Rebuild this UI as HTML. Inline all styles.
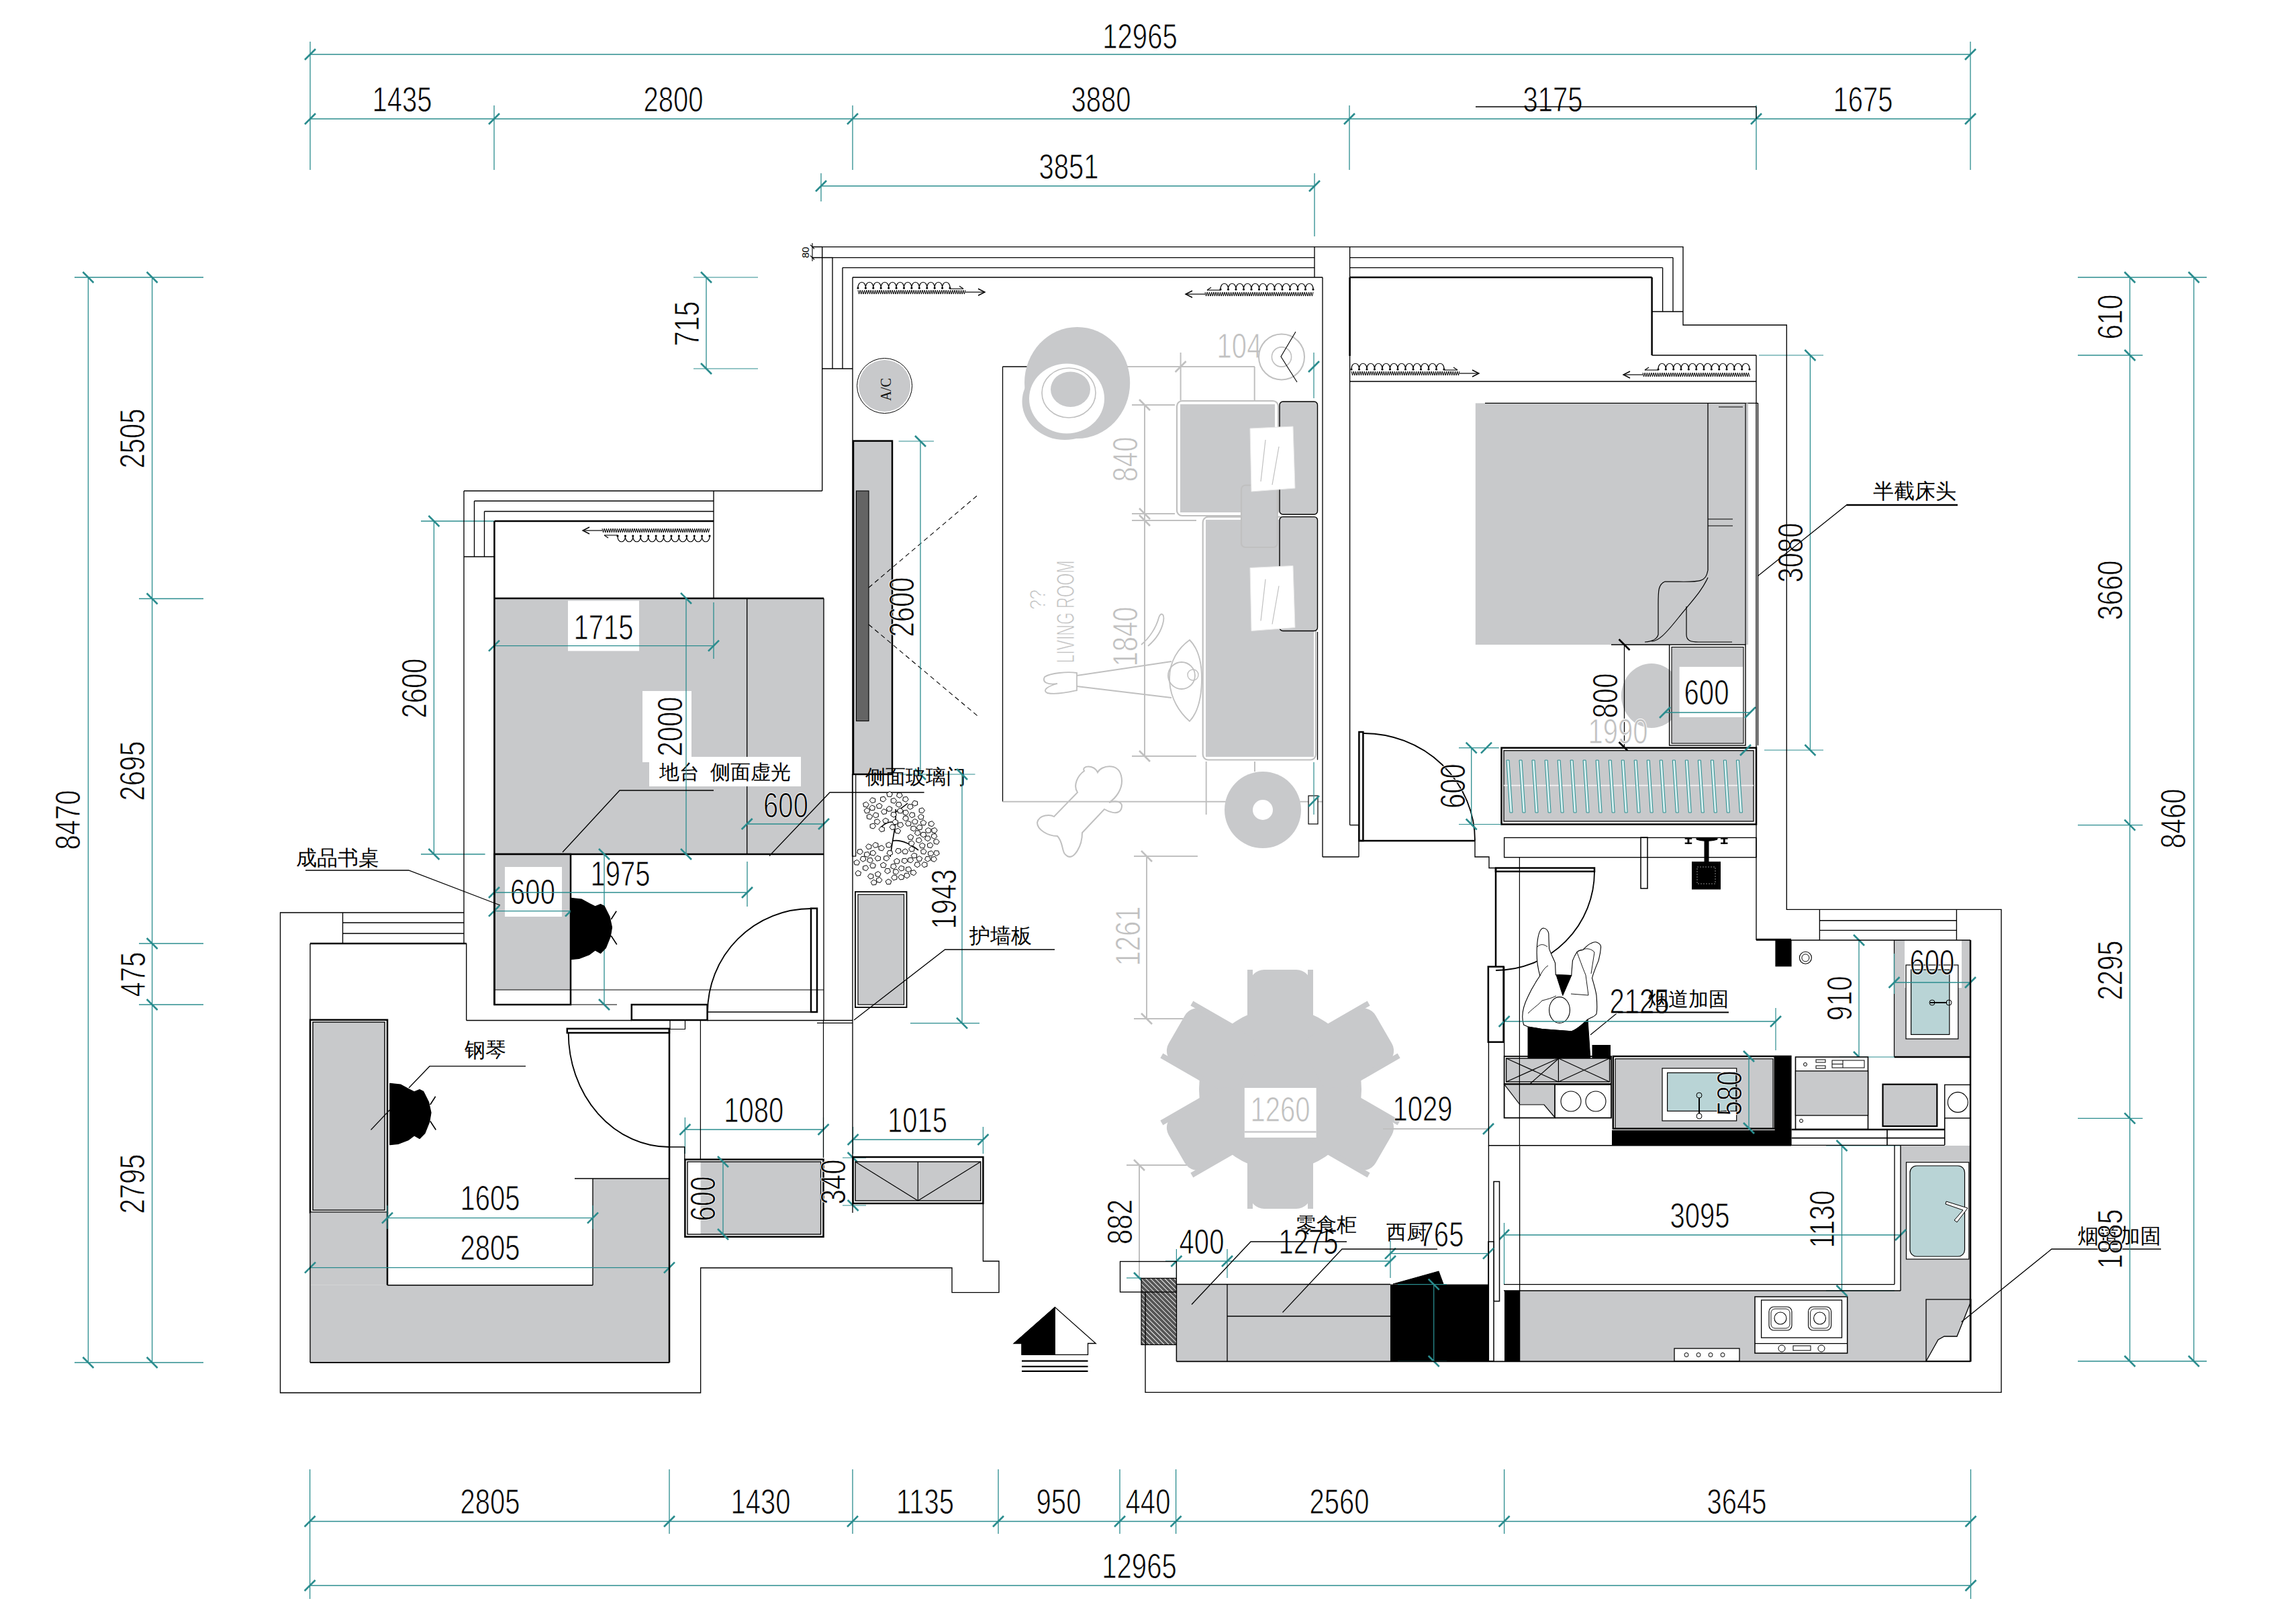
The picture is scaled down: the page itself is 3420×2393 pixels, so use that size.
<!DOCTYPE html>
<html><head><meta charset="utf-8"><style>html,body{margin:0;padding:0;background:#fff;overflow:hidden}svg{display:block}</style></head>
<body><svg width="3420" height="2393" viewBox="0 0 3420 2393" font-family="Liberation Sans, sans-serif">
<rect width="3420" height="2393" fill="#fff"/>
<rect x="736.4" y="891" width="490.6" height="381" fill="#c8c9cb"  />
<line x1="736.4" y1="891" x2="1227" y2="891" stroke="#000" stroke-width="2.5" />
<line x1="1112.7" y1="891" x2="1112.7" y2="1272" stroke="#000" stroke-width="1.35" />
<line x1="736.4" y1="1272" x2="1227" y2="1272" stroke="#000" stroke-width="2.5" />
<rect x="846" y="894.6" width="106" height="74.8" fill="#fff"  />
<text transform="translate(899,934) scale(0.785,1)" x="0" y="17.8" font-family="Liberation Sans" font-size="51" fill="#000" stroke="#fff" stroke-width="0.9" text-anchor="middle">1715</text>
<line x1="736" y1="961.6" x2="1063" y2="961.6" stroke="#2a8c8e" stroke-width="1.3" />
<line x1="728" y1="969.6" x2="744" y2="953.6" stroke="#2a8c8e" stroke-width="2.6" />
<line x1="1055" y1="969.6" x2="1071" y2="953.6" stroke="#2a8c8e" stroke-width="2.6" />
<line x1="1063" y1="897" x2="1063" y2="981" stroke="#2a8c8e" stroke-width="1.3" />
<rect x="957" y="1029" width="73" height="106" fill="#fff"  />
<text transform="translate(998,1082) rotate(-90) scale(0.785,1)" x="0" y="17.8" font-family="Liberation Sans" font-size="51" fill="#000" stroke="#fff" stroke-width="0.9" text-anchor="middle">2000</text>
<rect x="967" y="1127" width="226" height="44" fill="#fff"  />
<text x="1080" y="1159.8" font-family="Liberation Sans" font-size="30" fill="#000" text-anchor="middle">地台&#160;&#160;侧面虚光</text>
<line x1="1022" y1="891" x2="1022" y2="1272" stroke="#2a8c8e" stroke-width="1.3" />
<line x1="1014" y1="883" x2="1030" y2="899" stroke="#2a8c8e" stroke-width="2.6" />
<line x1="1014" y1="1264" x2="1030" y2="1280" stroke="#2a8c8e" stroke-width="2.6" />
<polyline points="838,1269 923,1177 1063,1177" stroke="#000" stroke-width="1.3" fill="none" />
<text transform="translate(1170.5,1199) scale(0.785,1)" x="0" y="17.8" font-family="Liberation Sans" font-size="51" fill="#000" stroke="#fff" stroke-width="0.9" text-anchor="middle">600</text>
<line x1="1112.7" y1="1227" x2="1227" y2="1227" stroke="#2a8c8e" stroke-width="1.3" />
<line x1="1104.7" y1="1235" x2="1120.7" y2="1219" stroke="#2a8c8e" stroke-width="2.6" />
<line x1="1219" y1="1235" x2="1235" y2="1219" stroke="#2a8c8e" stroke-width="2.6" />
<polyline points="1146,1274.5 1236,1180 1376.6,1180" stroke="#000" stroke-width="1.3" fill="none" />
<line x1="646.4" y1="776" x2="646.4" y2="1272" stroke="#2a8c8e" stroke-width="1.3" />
<line x1="638.4" y1="768" x2="654.4" y2="784" stroke="#2a8c8e" stroke-width="2.6" />
<line x1="638.4" y1="1264" x2="654.4" y2="1280" stroke="#2a8c8e" stroke-width="2.6" />
<line x1="627" y1="776" x2="736" y2="776" stroke="#2a8c8e" stroke-width="1.3" />
<line x1="627" y1="1272" x2="722.6" y2="1272" stroke="#2a8c8e" stroke-width="1.3" />
<text transform="translate(617,1025) rotate(-90) scale(0.785,1)" x="0" y="17.8" font-family="Liberation Sans" font-size="51" fill="#000" stroke="#fff" stroke-width="0.9" text-anchor="middle">2600</text>
<rect x="736.4" y="1272" width="113.6" height="202" fill="#c8c9cb"  />
<rect x="736.4" y="1272" width="113.6" height="224" fill="none" stroke="#000" stroke-width="2.5" />
<line x1="736" y1="1474" x2="1227" y2="1474" stroke="#000" stroke-width="1.2" />
<line x1="850" y1="1496" x2="919" y2="1496" stroke="#000" stroke-width="1.2" />
<rect x="752" y="1291" width="85" height="74" fill="#fff"  />
<text transform="translate(793.5,1328) scale(0.785,1)" x="0" y="17.8" font-family="Liberation Sans" font-size="51" fill="#000" stroke="#fff" stroke-width="0.9" text-anchor="middle">600</text>
<line x1="736" y1="1329" x2="1113" y2="1329" stroke="#2a8c8e" stroke-width="1.3" />
<line x1="728" y1="1337" x2="744" y2="1321" stroke="#2a8c8e" stroke-width="2.6" />
<line x1="1105" y1="1337" x2="1121" y2="1321" stroke="#2a8c8e" stroke-width="2.6" />
<line x1="1113" y1="1283" x2="1113" y2="1350" stroke="#2a8c8e" stroke-width="1.3" />
<line x1="736" y1="1356.6" x2="850" y2="1356.6" stroke="#2a8c8e" stroke-width="1.3" />
<line x1="728" y1="1364.6" x2="744" y2="1348.6" stroke="#2a8c8e" stroke-width="2.6" />
<line x1="842" y1="1364.6" x2="858" y2="1348.6" stroke="#2a8c8e" stroke-width="2.6" />
<text transform="translate(924,1301) scale(0.785,1)" x="0" y="17.8" font-family="Liberation Sans" font-size="51" fill="#000" stroke="#fff" stroke-width="0.9" text-anchor="middle">1975</text>
<line x1="900" y1="1272" x2="900" y2="1496" stroke="#2a8c8e" stroke-width="1.3" />
<line x1="892" y1="1264" x2="908" y2="1280" stroke="#2a8c8e" stroke-width="2.6" />
<line x1="892" y1="1488" x2="908" y2="1504" stroke="#2a8c8e" stroke-width="2.6" />
<rect x="1208" y="1352.7" width="9" height="154.3" fill="none" stroke="#000" stroke-width="2.5" />
<path d="M1208,1353 A154,154 0 0 0 1054,1507" stroke="#000" stroke-width="1.8" fill="none" />
<rect x="940.8" y="1496" width="112.8" height="23" fill="none" stroke="#000" stroke-width="2.5" />
<line x1="1054" y1="1507" x2="1215.6" y2="1507" stroke="#000" stroke-width="1.3" />
<text x="503" y="1288.2" font-family="Liberation Sans" font-size="31" fill="#000" text-anchor="middle">成品书桌</text>
<polyline points="455,1296 608.7,1296 745,1348" stroke="#000" stroke-width="1.3" fill="none" />
<path d="M920,797 C919,810 932.4,810 931.4,797 C930.4,810 943.8,810 942.8,797 C941.8,810 955.2,810 954.2,797 C953.2,810 966.7,810 965.7,797 C964.7,810 978.1,810 977.1,797 C976.1,810 989.5,810 988.5,797 C987.5,810 1000.9,810 999.9,797 C998.9,810 1012.3,810 1011.3,797 C1010.3,810 1023.8,810 1022.8,797 C1021.8,810 1035.2,810 1034.2,797 C1033.2,810 1046.6,810 1045.6,797 C1044.6,810 1058,810 1057,797" stroke="#000" stroke-width="1.2" fill="none" />
<circle cx="920" cy="798" r="1.6" fill="#000" />
<circle cx="931.4" cy="798" r="1.6" fill="#000" />
<circle cx="942.8" cy="798" r="1.6" fill="#000" />
<circle cx="954.2" cy="798" r="1.6" fill="#000" />
<circle cx="965.7" cy="798" r="1.6" fill="#000" />
<circle cx="977.1" cy="798" r="1.6" fill="#000" />
<circle cx="988.5" cy="798" r="1.6" fill="#000" />
<circle cx="999.9" cy="798" r="1.6" fill="#000" />
<circle cx="1011.3" cy="798" r="1.6" fill="#000" />
<circle cx="1022.8" cy="798" r="1.6" fill="#000" />
<circle cx="1034.2" cy="798" r="1.6" fill="#000" />
<circle cx="1045.6" cy="798" r="1.6" fill="#000" />
<circle cx="1057" cy="798" r="1.6" fill="#000" />
<line x1="920" y1="797" x2="900" y2="797" stroke="#000" stroke-width="1.1" />
<polyline points="906,801 900,797" stroke="#000" stroke-width="1.2" fill="none" />
<line x1="897" y1="790" x2="868" y2="790" stroke="#000" stroke-width="1.2" />
<polyline points="897,787 898.6,793 900.2,787 901.8,793 903.4,787 905,793 906.6,787 908.2,793 909.8,787 911.4,793 913,787 914.6,793 916.2,787 917.8,793 919.4,787 921,793 922.6,787 924.2,793 925.8,787 927.4,793 929,787 930.6,793 932.2,787 933.8,793 935.4,787 937,793 938.6,787 940.2,793 941.8,787 943.4,793 945,787 946.6,793 948.2,787 949.8,793 951.4,787 953,793 954.6,787 956.2,793 957.8,787 959.4,793 961,787 962.6,793 964.2,787 965.8,793 967.4,787 969,793 970.6,787 972.2,793 973.8,787 975.4,793 977,787 978.6,793 980.2,787 981.8,793 983.4,787 985,793 986.6,787 988.2,793 989.8,787 991.4,793 993,787 994.6,793 996.2,787 997.8,793 999.4,787 1001,793 1002.6,787 1004.2,793 1005.8,787 1007.4,793 1009,787 1010.6,793 1012.2,787 1013.8,793 1015.4,787 1017,793 1018.6,787 1020.2,793 1021.8,787 1023.4,793 1025,787 1026.6,793 1028.2,787 1029.8,793 1031.4,787 1033,793 1034.6,787 1036.2,793 1037.8,787 1039.4,793 1041,787 1042.6,793 1044.2,787 1045.8,793 1047.4,787 1049,793 1050.6,787 1052.2,793 1053.8,787 1055.4,793 1057,787" stroke="#000" stroke-width="1.0" fill="none" />
<polyline points="878,785 868,790 878,795" stroke="#000" stroke-width="1.4" fill="none" />
<rect x="462" y="1518.7" width="115" height="286.8" fill="none" stroke="#000" stroke-width="2.5" />
<rect x="466" y="1522" width="107" height="280" fill="#c8c9cb" stroke="#000" stroke-width="1.4" />
<rect x="462" y="1805.5" width="115" height="108.2" fill="#c8c9cb"  />
<rect x="462" y="1913.7" width="535" height="115.3" fill="#c8c9cb"  />
<rect x="883" y="1755" width="114" height="274" fill="#c8c9cb"  />
<line x1="577" y1="1805.5" x2="577" y2="1913.7" stroke="#000" stroke-width="2.5" />
<line x1="577" y1="1913.7" x2="883" y2="1913.7" stroke="#000" stroke-width="1.35" />
<line x1="856" y1="1755" x2="997" y2="1755" stroke="#000" stroke-width="1.35" />
<line x1="883" y1="1755" x2="883" y2="1913.7" stroke="#000" stroke-width="1.35" />
<line x1="462" y1="2029" x2="997" y2="2029" stroke="#000" stroke-width="1.35" />
<path d="M580.8,1613.4 L596.6,1615.1 L609,1621.9 L617,1625.9 L625,1622.5 L630.6,1625.3 L638.5,1641 L642,1657 L639.7,1670.6 L632.9,1687.6 L625,1695.5 L617,1691 L608,1697.8 L593,1703.4 L580.8,1704.6 Z" stroke="#000" stroke-width="1.2" fill="#000" stroke-linejoin="round"/>
<line x1="640.8" y1="1645" x2="648.7" y2="1632.7" stroke="#000" stroke-width="1.6" />
<line x1="640.8" y1="1669.5" x2="649.3" y2="1682.5" stroke="#000" stroke-width="1.6" />
<path d="M850.3,1337.4 L866.1,1339.1 L878.5,1345.9 L886.5,1349.9 L894.5,1346.5 L900.1,1349.3 L908,1365 L911.5,1381 L909.2,1394.6 L902.4,1411.6 L894.5,1419.5 L886.5,1415 L877.5,1421.8 L862.5,1427.4 L850.3,1428.6 Z" stroke="#000" stroke-width="1.2" fill="#000" stroke-linejoin="round"/>
<line x1="910.3" y1="1369" x2="918.2" y2="1356.7" stroke="#000" stroke-width="1.6" />
<line x1="910.3" y1="1393.5" x2="918.8" y2="1406.5" stroke="#000" stroke-width="1.6" />
<line x1="552.5" y1="1682.5" x2="580.8" y2="1652.5" stroke="#000" stroke-width="1.1" />
<text x="723" y="1574.2" font-family="Liberation Sans" font-size="31" fill="#000" text-anchor="middle">钢琴</text>
<polyline points="609,1620 640,1587.7 783,1587.7" stroke="#000" stroke-width="1.3" fill="none" />
<text transform="translate(730,1784.5) scale(0.785,1)" x="0" y="17.8" font-family="Liberation Sans" font-size="51" fill="#000" stroke="#fff" stroke-width="0.9" text-anchor="middle">1605</text>
<line x1="577" y1="1813.7" x2="883" y2="1813.7" stroke="#2a8c8e" stroke-width="1.3" />
<line x1="569" y1="1821.7" x2="585" y2="1805.7" stroke="#2a8c8e" stroke-width="2.6" />
<line x1="875" y1="1821.7" x2="891" y2="1805.7" stroke="#2a8c8e" stroke-width="2.6" />
<line x1="577" y1="1795" x2="577" y2="1830" stroke="#2a8c8e" stroke-width="1.2" />
<line x1="883" y1="1795" x2="883" y2="1830" stroke="#2a8c8e" stroke-width="1.2" />
<text transform="translate(730,1858.5) scale(0.785,1)" x="0" y="17.8" font-family="Liberation Sans" font-size="51" fill="#000" stroke="#fff" stroke-width="0.9" text-anchor="middle">2805</text>
<line x1="462" y1="1887.6" x2="997" y2="1887.6" stroke="#2a8c8e" stroke-width="1.3" />
<line x1="454" y1="1895.6" x2="470" y2="1879.6" stroke="#2a8c8e" stroke-width="2.6" />
<line x1="989" y1="1895.6" x2="1005" y2="1879.6" stroke="#2a8c8e" stroke-width="2.6" />
<rect x="844.8" y="1531.8" width="152.1" height="6.2" fill="none" stroke="#000" stroke-width="2.5" />
<path d="M846.7,1538 A150,170 0 0 0 997,1708" stroke="#000" stroke-width="1.8" fill="none" />
<rect x="1020.4" y="1726.6" width="206.1" height="115.1" fill="none" stroke="#000" stroke-width="2.5" />
<rect x="1043.6" y="1730" width="179" height="108" fill="#c8c9cb"  />
<rect x="1024" y="1730" width="198.6" height="108" fill="none" stroke="#000" stroke-width="1.4" />
<text transform="translate(1122.7,1653) scale(0.785,1)" x="0" y="17.8" font-family="Liberation Sans" font-size="51" fill="#000" stroke="#fff" stroke-width="0.9" text-anchor="middle">1080</text>
<line x1="1020.4" y1="1682" x2="1226.5" y2="1682" stroke="#2a8c8e" stroke-width="1.3" />
<line x1="1012.4" y1="1690" x2="1028.4" y2="1674" stroke="#2a8c8e" stroke-width="2.6" />
<line x1="1218.5" y1="1690" x2="1234.5" y2="1674" stroke="#2a8c8e" stroke-width="2.6" />
<line x1="1020.4" y1="1664" x2="1020.4" y2="1718" stroke="#2a8c8e" stroke-width="1.2" />
<line x1="1226.5" y1="1664" x2="1226.5" y2="1724" stroke="#2a8c8e" stroke-width="1.2" />
<text transform="translate(1047,1785) rotate(-90) scale(0.785,1)" x="0" y="17.8" font-family="Liberation Sans" font-size="51" fill="#000" stroke="#fff" stroke-width="0.9" text-anchor="middle">600</text>
<line x1="1077" y1="1730" x2="1077" y2="1838" stroke="#2a8c8e" stroke-width="1.3" />
<line x1="1069" y1="1722" x2="1085" y2="1738" stroke="#2a8c8e" stroke-width="2.6" />
<line x1="1069" y1="1830" x2="1085" y2="1846" stroke="#2a8c8e" stroke-width="2.6" />
<text transform="translate(1241.5,1760) rotate(-90) scale(0.785,1)" x="0" y="17.8" font-family="Liberation Sans" font-size="51" fill="#000" stroke="#fff" stroke-width="0.9" text-anchor="middle">340</text>
<line x1="1270.6" y1="1724" x2="1270.6" y2="1795" stroke="#2a8c8e" stroke-width="1.3" />
<line x1="1262.6" y1="1716" x2="1278.6" y2="1732" stroke="#2a8c8e" stroke-width="2.6" />
<line x1="1262.6" y1="1787" x2="1278.6" y2="1803" stroke="#2a8c8e" stroke-width="2.6" />
<line x1="1255" y1="1724" x2="1290" y2="1724" stroke="#2a8c8e" stroke-width="1.2" />
<line x1="1255" y1="1795" x2="1290" y2="1795" stroke="#2a8c8e" stroke-width="1.2" />
<rect x="1270.6" y="1723" width="193.8" height="69" fill="none" stroke="#000" stroke-width="2.5" />
<rect x="1274" y="1730" width="186.7" height="58" fill="#c8c9cb" stroke="#000" stroke-width="1.4" />
<line x1="1367.3" y1="1730" x2="1367.3" y2="1788" stroke="#000" stroke-width="1.2" />
<line x1="1274" y1="1730" x2="1367.3" y2="1788" stroke="#000" stroke-width="1.2" />
<line x1="1460.7" y1="1730" x2="1367.3" y2="1788" stroke="#000" stroke-width="1.2" />
<text transform="translate(1366.6,1668) scale(0.785,1)" x="0" y="17.8" font-family="Liberation Sans" font-size="51" fill="#000" stroke="#fff" stroke-width="0.9" text-anchor="middle">1015</text>
<line x1="1270.6" y1="1697" x2="1464.4" y2="1697" stroke="#2a8c8e" stroke-width="1.3" />
<line x1="1262.6" y1="1705" x2="1278.6" y2="1689" stroke="#2a8c8e" stroke-width="2.6" />
<line x1="1456.4" y1="1705" x2="1472.4" y2="1689" stroke="#2a8c8e" stroke-width="2.6" />
<line x1="1464.4" y1="1678" x2="1464.4" y2="1718" stroke="#2a8c8e" stroke-width="1.2" />
<line x1="1270.6" y1="1678" x2="1270.6" y2="1718" stroke="#2a8c8e" stroke-width="1.2" />
<polygon points="1510.2,2000.5 1571.4,1946.5 1632.2,2000.5 1620.5,2000.5 1620.5,2017.4 1522,2017.4 1522,2000.5" stroke="#000" stroke-width="1.3" fill="#fff" />
<polygon points="1510.2,2000.5 1571.4,1946.5 1571.4,2017.4 1522,2017.4 1522,2000.5" stroke="#000" stroke-width="1" fill="#000" />
<line x1="1522" y1="2026.6" x2="1620.5" y2="2026.6" stroke="#000" stroke-width="2.2" />
<line x1="1522" y1="2034.8" x2="1620.5" y2="2034.8" stroke="#000" stroke-width="2.2" />
<line x1="1522" y1="2041.8" x2="1620.5" y2="2041.8" stroke="#000" stroke-width="2.2" />
<rect x="1271" y="656.6" width="58" height="496.4" fill="#c8c9cb" stroke="#000" stroke-width="2.5" />
<rect x="1275.5" y="731" width="18.5" height="342.6" fill="#646464" stroke="#000" stroke-width="1.1" />
<line x1="1294" y1="875" x2="1456" y2="737.6" stroke="#000" stroke-width="1.1" stroke-dasharray="7,5"/>
<line x1="1294" y1="930" x2="1456" y2="1066" stroke="#000" stroke-width="1.1" stroke-dasharray="7,5"/>
<line x1="1371" y1="657" x2="1371" y2="1153" stroke="#2a8c8e" stroke-width="1.3" />
<line x1="1363" y1="649" x2="1379" y2="665" stroke="#2a8c8e" stroke-width="2.6" />
<line x1="1363" y1="1145" x2="1379" y2="1161" stroke="#2a8c8e" stroke-width="2.6" />
<line x1="1338.6" y1="657" x2="1391" y2="657" stroke="#2a8c8e" stroke-width="1.2" />
<line x1="1340" y1="1153" x2="1452.5" y2="1153" stroke="#2a8c8e" stroke-width="1.2" />
<text transform="translate(1343,904) rotate(-90) scale(0.785,1)" x="0" y="17.8" font-family="Liberation Sans" font-size="51" fill="#000" stroke="#fff" stroke-width="0.9" text-anchor="middle">2600</text>
<text x="1364" y="1166.8" font-family="Liberation Sans" font-size="30" fill="#000" text-anchor="middle">侧面玻璃门</text>
<rect x="1269.5" y="1153" width="5.2" height="122" fill="none" stroke="#000" stroke-width="1.2" />
<path d="M1326,1276 C1328,1262 1330,1250 1332,1238 C1334,1225 1335,1215 1334,1205 M1330,1252 C1342,1250 1355,1256 1368,1266 M1334,1225 C1325,1222 1318,1226 1312,1232 M1333,1210 C1340,1205 1348,1200 1352,1196" stroke="#000" stroke-width="1.6" fill="none" />
<polygon points="1296.9,1220.1 1291.6,1218.9 1291.2,1214 1296.2,1212.1 1299.7,1215.9" fill="#fff" stroke="#000" stroke-width="1"/>
<polygon points="1360.2,1202.8 1355.6,1205.4 1351.4,1202.3 1353.4,1197.7 1358.8,1198" fill="#fff" stroke="#000" stroke-width="1"/>
<polygon points="1345.6,1229.4 1341.5,1232.6 1336.9,1230 1338.2,1225.2 1343.6,1224.8" fill="#fff" stroke="#000" stroke-width="1"/>
<polygon points="1303.7,1194.3 1298.5,1195.8 1295.3,1191.8 1298.5,1187.8 1303.7,1189.4" fill="#fff" stroke="#000" stroke-width="1"/>
<polygon points="1353.3,1220.2 1348.7,1222.8 1344.6,1219.6 1346.6,1215 1352,1215.4" fill="#fff" stroke="#000" stroke-width="1"/>
<polygon points="1365.7,1226.9 1360.3,1227.1 1358.4,1222.5 1362.6,1219.4 1367.2,1222.1" fill="#fff" stroke="#000" stroke-width="1"/>
<polygon points="1327.9,1207.6 1322.6,1208.3 1320.2,1203.9 1324.1,1200.5 1328.9,1202.8" fill="#fff" stroke="#000" stroke-width="1"/>
<polygon points="1377.5,1206.9 1374.3,1210.9 1369.2,1209.4 1369.2,1204.5 1374.3,1202.9" fill="#fff" stroke="#000" stroke-width="1"/>
<polygon points="1335.5,1214 1331.3,1217.1 1326.8,1214.4 1328.2,1209.6 1333.6,1209.3" fill="#fff" stroke="#000" stroke-width="1"/>
<polygon points="1320.2,1211.7 1314.9,1212.5 1312.4,1208.2 1316.2,1204.6 1321,1206.9" fill="#fff" stroke="#000" stroke-width="1"/>
<polygon points="1362.8,1215.6 1357.9,1217.7 1354.2,1214.1 1356.8,1209.8 1362.1,1210.7" fill="#fff" stroke="#000" stroke-width="1"/>
<polygon points="1294.5,1210.5 1289.1,1210.9 1287,1206.4 1291.1,1203.1 1295.7,1205.7" fill="#fff" stroke="#000" stroke-width="1"/>
<polygon points="1308.4,1216.2 1303.4,1218 1300,1214.1 1303,1210 1308.2,1211.3" fill="#fff" stroke="#000" stroke-width="1"/>
<polygon points="1353.3,1190.7 1349.6,1194.3 1344.7,1192.1 1345.5,1187.2 1350.8,1186.4" fill="#fff" stroke="#000" stroke-width="1"/>
<polygon points="1322.2,1225.5 1316.8,1225.9 1314.7,1221.3 1318.9,1218.1 1323.5,1220.7" fill="#fff" stroke="#000" stroke-width="1"/>
<polygon points="1332.5,1196.3 1327.3,1195 1327.2,1190 1332.2,1188.3 1335.6,1192.2" fill="#fff" stroke="#000" stroke-width="1"/>
<polygon points="1353.6,1210.5 1350,1214.2 1345.1,1212.1 1345.7,1207.2 1351,1206.2" fill="#fff" stroke="#000" stroke-width="1"/>
<polygon points="1302.6,1206.1 1297.3,1206.9 1294.8,1202.6 1298.6,1199 1303.4,1201.2" fill="#fff" stroke="#000" stroke-width="1"/>
<polygon points="1356.4,1229.4 1351.1,1230.2 1348.5,1225.9 1352.3,1222.3 1357.2,1224.5" fill="#fff" stroke="#000" stroke-width="1"/>
<polygon points="1336.8,1227.1 1331.5,1227.9 1329,1223.6 1332.7,1220 1337.6,1222.2" fill="#fff" stroke="#000" stroke-width="1"/>
<polygon points="1317.3,1237.3 1312.1,1238.8 1309,1234.8 1312.2,1230.8 1317.3,1232.4" fill="#fff" stroke="#000" stroke-width="1"/>
<polygon points="1333.3,1234.2 1328.1,1235.7 1325,1231.7 1328.2,1227.7 1333.3,1229.3" fill="#fff" stroke="#000" stroke-width="1"/>
<polygon points="1308,1227.6 1302.9,1226.1 1302.8,1221.2 1307.9,1219.6 1311.2,1223.5" fill="#fff" stroke="#000" stroke-width="1"/>
<polygon points="1291.9,1202 1286.6,1201.2 1285.7,1196.3 1290.5,1194.1 1294.3,1197.6" fill="#fff" stroke="#000" stroke-width="1"/>
<polygon points="1366.8,1198.4 1361.8,1200.3 1358.3,1196.6 1361.1,1192.3 1366.4,1193.5" fill="#fff" stroke="#000" stroke-width="1"/>
<polygon points="1327.4,1186.5 1322,1186.1 1320.8,1181.3 1325.4,1178.7 1329.5,1181.9" fill="#fff" stroke="#000" stroke-width="1"/>
<polygon points="1374.9,1219.7 1369.5,1220.2 1367.3,1215.7 1371.3,1212.4 1376,1214.9" fill="#fff" stroke="#000" stroke-width="1"/>
<polygon points="1312.1,1203.8 1306.7,1203.5 1305.4,1198.7 1310,1196.1 1314.1,1199.2" fill="#fff" stroke="#000" stroke-width="1"/>
<polygon points="1301.3,1234.1 1296.2,1232.6 1296.1,1227.7 1301.3,1226.1 1304.5,1230.1" fill="#fff" stroke="#000" stroke-width="1"/>
<polygon points="1319.9,1190.4 1316.3,1194.1 1311.4,1192.2 1311.8,1187.3 1317.1,1186.2" fill="#fff" stroke="#000" stroke-width="1"/>
<polygon points="1344.3,1185.3 1340,1188.4 1335.5,1185.7 1336.9,1180.9 1342.3,1180.7" fill="#fff" stroke="#000" stroke-width="1"/>
<polygon points="1343.2,1199.2 1338.9,1202.2 1334.4,1199.4 1336,1194.7 1341.4,1194.6" fill="#fff" stroke="#000" stroke-width="1"/>
<polygon points="1343.2,1211 1337.8,1210.6 1336.6,1205.8 1341.2,1203.2 1345.3,1206.5" fill="#fff" stroke="#000" stroke-width="1"/>
<polygon points="1339,1241.3 1333.7,1240.2 1333.2,1235.3 1338.1,1233.3 1341.7,1237" fill="#fff" stroke="#000" stroke-width="1"/>
<polygon points="1386.3,1249.6 1382,1252.6 1377.5,1249.9 1379,1245.1 1384.4,1245" fill="#fff" stroke="#000" stroke-width="1"/>
<polygon points="1381,1290 1375.9,1291.6 1372.6,1287.7 1375.7,1283.6 1380.9,1285.1" fill="#fff" stroke="#000" stroke-width="1"/>
<polygon points="1377.6,1272 1372.3,1271.1 1371.6,1266.2 1376.4,1264.1 1380.2,1267.6" fill="#fff" stroke="#000" stroke-width="1"/>
<polygon points="1385.6,1240 1380.2,1240.2 1378.3,1235.5 1382.6,1232.5 1387.1,1235.2" fill="#fff" stroke="#000" stroke-width="1"/>
<polygon points="1365.2,1276.9 1359.9,1277.9 1357.2,1273.6 1360.8,1270 1365.8,1272" fill="#fff" stroke="#000" stroke-width="1"/>
<polygon points="1387.3,1262.6 1382,1261.7 1381.3,1256.8 1386.2,1254.7 1389.9,1258.2" fill="#fff" stroke="#000" stroke-width="1"/>
<polygon points="1359.6,1259.7 1354.3,1258.7 1353.8,1253.7 1358.7,1251.8 1362.3,1255.5" fill="#fff" stroke="#000" stroke-width="1"/>
<polygon points="1373.3,1251.7 1369.6,1255.3 1364.7,1253.3 1365.3,1248.4 1370.6,1247.4" fill="#fff" stroke="#000" stroke-width="1"/>
<polygon points="1388.8,1230.7 1383.6,1229.4 1383.4,1224.5 1388.5,1222.7 1391.8,1226.6" fill="#fff" stroke="#000" stroke-width="1"/>
<polygon points="1399.2,1271.8 1394.7,1274.5 1390.5,1271.4 1392.4,1266.8 1397.8,1267.1" fill="#fff" stroke="#000" stroke-width="1"/>
<polygon points="1361.5,1267.4 1356.1,1268.2 1353.6,1263.8 1357.4,1260.3 1362.2,1262.5" fill="#fff" stroke="#000" stroke-width="1"/>
<polygon points="1372,1282.2 1366.6,1282.2 1365,1277.5 1369.4,1274.6 1373.7,1277.5" fill="#fff" stroke="#000" stroke-width="1"/>
<polygon points="1386.2,1280.5 1381.7,1283.2 1377.5,1280.1 1379.4,1275.5 1384.8,1275.8" fill="#fff" stroke="#000" stroke-width="1"/>
<polygon points="1371.1,1241.9 1366.5,1244.6 1362.4,1241.4 1364.4,1236.8 1369.8,1237.2" fill="#fff" stroke="#000" stroke-width="1"/>
<polygon points="1396.7,1257.3 1391.4,1256.3 1390.7,1251.4 1395.6,1249.4 1399.3,1253" fill="#fff" stroke="#000" stroke-width="1"/>
<polygon points="1377.9,1228.8 1372.5,1228.5 1371.1,1223.8 1375.6,1221.1 1379.8,1224.2" fill="#fff" stroke="#000" stroke-width="1"/>
<polygon points="1393.2,1240.5 1388,1239.1 1387.9,1234.2 1393,1232.5 1396.3,1236.4" fill="#fff" stroke="#000" stroke-width="1"/>
<polygon points="1395.5,1279.8 1391.9,1283.4 1387,1281.4 1387.6,1276.5 1392.9,1275.5" fill="#fff" stroke="#000" stroke-width="1"/>
<polygon points="1373,1235.1 1367.6,1235.9 1365.2,1231.5 1369,1228 1373.8,1230.3" fill="#fff" stroke="#000" stroke-width="1"/>
<polygon points="1359.1,1250 1353.7,1250.1 1352,1245.4 1356.3,1242.5 1360.7,1245.3" fill="#fff" stroke="#000" stroke-width="1"/>
<polygon points="1388,1274.9 1382.8,1273.6 1382.5,1268.7 1387.6,1266.9 1391,1270.7" fill="#fff" stroke="#000" stroke-width="1"/>
<polygon points="1376.6,1262.7 1371.2,1262.8 1369.4,1258.2 1373.6,1255.1 1378.1,1257.9" fill="#fff" stroke="#000" stroke-width="1"/>
<polygon points="1370.7,1288.9 1366.2,1291.7 1361.9,1288.6 1363.8,1284 1369.2,1284.2" fill="#fff" stroke="#000" stroke-width="1"/>
<polygon points="1365.2,1234.2 1361.5,1237.8 1356.6,1235.7 1357.3,1230.8 1362.6,1229.9" fill="#fff" stroke="#000" stroke-width="1"/>
<polygon points="1395.9,1246 1391.8,1249.3 1387.1,1246.8 1388.3,1242 1393.7,1241.5" fill="#fff" stroke="#000" stroke-width="1"/>
<polygon points="1379.8,1244.2 1375.4,1247 1371,1244.1 1372.8,1239.4 1378.2,1239.4" fill="#fff" stroke="#000" stroke-width="1"/>
<polygon points="1311.1,1281 1305.9,1282.1 1303.1,1277.9 1306.6,1274.2 1311.6,1276.1" fill="#fff" stroke="#000" stroke-width="1"/>
<polygon points="1326.3,1298.5 1321.6,1301.1 1317.6,1297.8 1319.7,1293.3 1325.1,1293.7" fill="#fff" stroke="#000" stroke-width="1"/>
<polygon points="1351.9,1282.6 1348,1286 1343.2,1283.6 1344.2,1278.8 1349.6,1278.2" fill="#fff" stroke="#000" stroke-width="1"/>
<polygon points="1324.9,1278.4 1321.2,1282.1 1316.3,1280.1 1316.9,1275.2 1322.2,1274.2" fill="#fff" stroke="#000" stroke-width="1"/>
<polygon points="1326.5,1316.4 1321.1,1316.8 1319,1312.2 1323.1,1309 1327.7,1311.6" fill="#fff" stroke="#000" stroke-width="1"/>
<polygon points="1278.5,1288.1 1273.1,1287.7 1271.9,1282.9 1276.5,1280.4 1280.6,1283.6" fill="#fff" stroke="#000" stroke-width="1"/>
<polygon points="1295.9,1273 1292.1,1276.5 1287.2,1274.3 1288.1,1269.4 1293.4,1268.6" fill="#fff" stroke="#000" stroke-width="1"/>
<polygon points="1335.9,1309.3 1330.7,1310.7 1327.6,1306.7 1330.9,1302.7 1336,1304.4" fill="#fff" stroke="#000" stroke-width="1"/>
<polygon points="1301.8,1274.2 1296.6,1272.8 1296.4,1267.9 1301.5,1266.2 1304.8,1270.1" fill="#fff" stroke="#000" stroke-width="1"/>
<polygon points="1342.3,1268.9 1337.5,1271.2 1333.6,1267.8 1336,1263.4 1341.3,1264.1" fill="#fff" stroke="#000" stroke-width="1"/>
<polygon points="1307.8,1261.1 1302.6,1262.4 1299.6,1258.3 1303,1254.4 1308,1256.1" fill="#fff" stroke="#000" stroke-width="1"/>
<polygon points="1310.1,1305.3 1304.8,1305 1303.5,1300.2 1308.1,1297.6 1312.2,1300.8" fill="#fff" stroke="#000" stroke-width="1"/>
<polygon points="1293.8,1292.7 1290.5,1296.6 1285.4,1294.9 1285.6,1290 1290.8,1288.6" fill="#fff" stroke="#000" stroke-width="1"/>
<polygon points="1325.9,1262 1320.5,1261.3 1319.7,1256.4 1324.5,1254.1 1328.3,1257.6" fill="#fff" stroke="#000" stroke-width="1"/>
<polygon points="1318.3,1291.9 1312.9,1291.7 1311.4,1287 1315.9,1284.2 1320.2,1287.2" fill="#fff" stroke="#000" stroke-width="1"/>
<polygon points="1338.7,1285.9 1333.3,1286 1331.5,1281.3 1335.9,1278.3 1340.3,1281.2" fill="#fff" stroke="#000" stroke-width="1"/>
<polygon points="1329.7,1271.9 1324.9,1274.3 1321,1271 1323.2,1266.5 1328.6,1267.1" fill="#fff" stroke="#000" stroke-width="1"/>
<polygon points="1346.6,1295.5 1341.5,1297.1 1338.2,1293.1 1341.4,1289.1 1346.5,1290.6" fill="#fff" stroke="#000" stroke-width="1"/>
<polygon points="1311.2,1314.4 1305.9,1313.3 1305.5,1308.3 1310.5,1306.5 1314,1310.2" fill="#fff" stroke="#000" stroke-width="1"/>
<polygon points="1339,1298.5 1335.5,1302.2 1330.5,1300.4 1330.9,1295.4 1336.1,1294.3" fill="#fff" stroke="#000" stroke-width="1"/>
<polygon points="1357.7,1294.9 1354.1,1298.6 1349.1,1296.6 1349.7,1291.7 1355,1290.7" fill="#fff" stroke="#000" stroke-width="1"/>
<polygon points="1281.5,1303.5 1276.2,1304.2 1273.8,1299.8 1277.7,1296.3 1282.5,1298.7" fill="#fff" stroke="#000" stroke-width="1"/>
<polygon points="1314.5,1266.9 1309.2,1265.6 1308.9,1260.7 1313.9,1258.9 1317.4,1262.7" fill="#fff" stroke="#000" stroke-width="1"/>
<polygon points="1285.5,1269.1 1281.5,1272.5 1276.8,1270.1 1277.8,1265.2 1283.1,1264.6" fill="#fff" stroke="#000" stroke-width="1"/>
<polygon points="1300.5,1282 1296.3,1285.2 1291.7,1282.6 1293,1277.8 1298.4,1277.5" fill="#fff" stroke="#000" stroke-width="1"/>
<polygon points="1301,1307.2 1295.9,1309 1292.5,1305.2 1295.5,1301 1300.7,1302.3" fill="#fff" stroke="#000" stroke-width="1"/>
<polygon points="1350.8,1271.6 1345.4,1271.4 1344,1266.6 1348.5,1263.9 1352.7,1267" fill="#fff" stroke="#000" stroke-width="1"/>
<polygon points="1346,1309 1340.7,1310.1 1337.9,1305.9 1341.4,1302.2 1346.4,1304.1" fill="#fff" stroke="#000" stroke-width="1"/>
<polygon points="1304.8,1317.3 1299.4,1317.9 1297.2,1313.4 1301.2,1310 1305.9,1312.5" fill="#fff" stroke="#000" stroke-width="1"/>
<polygon points="1365.1,1299.8 1361.6,1303.6 1356.6,1301.7 1356.9,1296.8 1362.2,1295.6" fill="#fff" stroke="#000" stroke-width="1"/>
<polygon points="1355.3,1304.7 1351.1,1307.8 1346.6,1305.2 1347.9,1300.4 1353.3,1300.1" fill="#fff" stroke="#000" stroke-width="1"/>
<polygon points="1297.5,1263.6 1292.2,1264.6 1289.5,1260.3 1293.2,1256.7 1298.1,1258.7" fill="#fff" stroke="#000" stroke-width="1"/>
<polygon points="1302.9,1292.5 1297.5,1292.6 1295.7,1288 1299.9,1284.9 1304.4,1287.7" fill="#fff" stroke="#000" stroke-width="1"/>
<polygon points="1335.4,1290.6 1331.7,1294.2 1326.8,1292.2 1327.4,1287.3 1332.7,1286.3" fill="#fff" stroke="#000" stroke-width="1"/>
<polygon points="1360.6,1281.3 1357,1284.9 1352,1282.9 1352.7,1278 1358,1277" fill="#fff" stroke="#000" stroke-width="1"/>
<polygon points="1289.9,1280.6 1285.3,1283.2 1281.2,1280 1283.2,1275.4 1288.6,1275.8" fill="#fff" stroke="#000" stroke-width="1"/>
<line x1="1433" y1="1153" x2="1433" y2="1523.6" stroke="#2a8c8e" stroke-width="1.3" />
<line x1="1425" y1="1145" x2="1441" y2="1161" stroke="#2a8c8e" stroke-width="2.6" />
<line x1="1425" y1="1515.6" x2="1441" y2="1531.6" stroke="#2a8c8e" stroke-width="2.6" />
<line x1="1356" y1="1523.6" x2="1459" y2="1523.6" stroke="#2a8c8e" stroke-width="1.2" />
<text transform="translate(1406,1339) rotate(-90) scale(0.785,1)" x="0" y="17.8" font-family="Liberation Sans" font-size="51" fill="#000" stroke="#fff" stroke-width="0.9" text-anchor="middle">1943</text>
<rect x="1273.9" y="1328" width="76.6" height="172" fill="none" stroke="#000" stroke-width="1.8" />
<rect x="1278" y="1332" width="68.5" height="164" fill="#c8c9cb" stroke="#000" stroke-width="1.2" />
<text x="1490" y="1404.2" font-family="Liberation Sans" font-size="31" fill="#000" text-anchor="middle">护墙板</text>
<polyline points="1272,1519 1407.6,1414 1571,1414" stroke="#000" stroke-width="1.3" fill="none" />
<circle cx="1317.6" cy="574.5" r="41" fill="#fff" stroke="#000" stroke-width="1.0"/>
<circle cx="1317.6" cy="574.5" r="38.5" fill="#c8c9cb" />
<text transform="translate(1319,580) rotate(-90) scale(0.85,1)" x="0" y="8" font-family="Liberation Serif" font-size="24" fill="#111" text-anchor="middle">A/C</text>
<line x1="1052" y1="413" x2="1052" y2="549" stroke="#2a8c8e" stroke-width="1.3" />
<line x1="1044" y1="405" x2="1060" y2="421" stroke="#2a8c8e" stroke-width="2.6" />
<line x1="1044" y1="541" x2="1060" y2="557" stroke="#2a8c8e" stroke-width="2.6" />
<line x1="1033" y1="413" x2="1129" y2="413" stroke="#2a8c8e" stroke-width="1.2" />
<line x1="1033" y1="549" x2="1129" y2="549" stroke="#2a8c8e" stroke-width="1.2" />
<text transform="translate(1023,482) rotate(-90) scale(0.785,1)" x="0" y="17.8" font-family="Liberation Sans" font-size="51" fill="#000" stroke="#fff" stroke-width="0.9" text-anchor="middle">715</text>
<line x1="1210" y1="362" x2="1210" y2="389" stroke="#000" stroke-width="1.1" />
<line x1="1210" y1="367.6" x2="1224.7" y2="367.6" stroke="#000" stroke-width="1.5" />
<line x1="1210" y1="383.6" x2="1240" y2="383.6" stroke="#000" stroke-width="1.5" />
<line x1="1207" y1="364.6" x2="1213" y2="370.6" stroke="#000" stroke-width="1.2" />
<line x1="1207" y1="380.6" x2="1213" y2="386.6" stroke="#000" stroke-width="1.2" />
<text transform="translate(1200,376) rotate(-90)" x="0" y="5" font-family="Liberation Sans" font-size="15" fill="#000" text-anchor="middle">80</text>
<path d="M1278,430 C1277,417 1290.4,417 1289.4,430 C1288.4,417 1301.8,417 1300.8,430 C1299.8,417 1313.2,417 1312.2,430 C1311.2,417 1324.7,417 1323.7,430 C1322.7,417 1336.1,417 1335.1,430 C1334.1,417 1347.5,417 1346.5,430 C1345.5,417 1358.9,417 1357.9,430 C1356.9,417 1370.3,417 1369.3,430 C1368.3,417 1381.8,417 1380.8,430 C1379.8,417 1393.2,417 1392.2,430 C1391.2,417 1404.6,417 1403.6,430 C1402.6,417 1416,417 1415,430" stroke="#000" stroke-width="1.2" fill="none" />
<circle cx="1278" cy="429" r="1.6" fill="#000" />
<circle cx="1289.4" cy="429" r="1.6" fill="#000" />
<circle cx="1300.8" cy="429" r="1.6" fill="#000" />
<circle cx="1312.2" cy="429" r="1.6" fill="#000" />
<circle cx="1323.7" cy="429" r="1.6" fill="#000" />
<circle cx="1335.1" cy="429" r="1.6" fill="#000" />
<circle cx="1346.5" cy="429" r="1.6" fill="#000" />
<circle cx="1357.9" cy="429" r="1.6" fill="#000" />
<circle cx="1369.3" cy="429" r="1.6" fill="#000" />
<circle cx="1380.8" cy="429" r="1.6" fill="#000" />
<circle cx="1392.2" cy="429" r="1.6" fill="#000" />
<circle cx="1403.6" cy="429" r="1.6" fill="#000" />
<circle cx="1415" cy="429" r="1.6" fill="#000" />
<line x1="1415" y1="430" x2="1435" y2="430" stroke="#000" stroke-width="1.1" />
<polyline points="1429,426 1435,430" stroke="#000" stroke-width="1.2" fill="none" />
<line x1="1438" y1="435" x2="1467" y2="435" stroke="#000" stroke-width="1.2" />
<polyline points="1278,432 1279.6,438 1281.2,432 1282.8,438 1284.4,432 1286,438 1287.6,432 1289.2,438 1290.8,432 1292.4,438 1294,432 1295.6,438 1297.2,432 1298.8,438 1300.4,432 1302,438 1303.6,432 1305.2,438 1306.8,432 1308.4,438 1310,432 1311.6,438 1313.2,432 1314.8,438 1316.4,432 1318,438 1319.6,432 1321.2,438 1322.8,432 1324.4,438 1326,432 1327.6,438 1329.2,432 1330.8,438 1332.4,432 1334,438 1335.6,432 1337.2,438 1338.8,432 1340.4,438 1342,432 1343.6,438 1345.2,432 1346.8,438 1348.4,432 1350,438 1351.6,432 1353.2,438 1354.8,432 1356.4,438 1358,432 1359.6,438 1361.2,432 1362.8,438 1364.4,432 1366,438 1367.6,432 1369.2,438 1370.8,432 1372.4,438 1374,432 1375.6,438 1377.2,432 1378.8,438 1380.4,432 1382,438 1383.6,432 1385.2,438 1386.8,432 1388.4,438 1390,432 1391.6,438 1393.2,432 1394.8,438 1396.4,432 1398,438 1399.6,432 1401.2,438 1402.8,432 1404.4,438 1406,432 1407.6,438 1409.2,432 1410.8,438 1412.4,432 1414,438 1415.6,432 1417.2,438 1418.8,432 1420.4,438 1422,432 1423.6,438 1425.2,432 1426.8,438 1428.4,432 1430,438 1431.6,432 1433.2,438 1434.8,432 1436.4,438 1438,432" stroke="#000" stroke-width="1.0" fill="none" />
<polyline points="1457,430 1467,435 1457,440" stroke="#000" stroke-width="1.4" fill="none" />
<path d="M1818,432 C1817,419 1830.5,419 1829.5,432 C1828.5,419 1842,419 1841,432 C1840,419 1853.5,419 1852.5,432 C1851.5,419 1865,419 1864,432 C1863,419 1876.5,419 1875.5,432 C1874.5,419 1888,419 1887,432 C1886,419 1899.5,419 1898.5,432 C1897.5,419 1911,419 1910,432 C1909,419 1922.5,419 1921.5,432 C1920.5,419 1934,419 1933,432 C1932,419 1945.5,419 1944.5,432 C1943.5,419 1957,419 1956,432" stroke="#000" stroke-width="1.2" fill="none" />
<circle cx="1818" cy="431" r="1.6" fill="#000" />
<circle cx="1829.5" cy="431" r="1.6" fill="#000" />
<circle cx="1841" cy="431" r="1.6" fill="#000" />
<circle cx="1852.5" cy="431" r="1.6" fill="#000" />
<circle cx="1864" cy="431" r="1.6" fill="#000" />
<circle cx="1875.5" cy="431" r="1.6" fill="#000" />
<circle cx="1887" cy="431" r="1.6" fill="#000" />
<circle cx="1898.5" cy="431" r="1.6" fill="#000" />
<circle cx="1910" cy="431" r="1.6" fill="#000" />
<circle cx="1921.5" cy="431" r="1.6" fill="#000" />
<circle cx="1933" cy="431" r="1.6" fill="#000" />
<circle cx="1944.5" cy="431" r="1.6" fill="#000" />
<circle cx="1956" cy="431" r="1.6" fill="#000" />
<line x1="1818" y1="432" x2="1798" y2="432" stroke="#000" stroke-width="1.1" />
<polyline points="1804,428 1798,432" stroke="#000" stroke-width="1.2" fill="none" />
<line x1="1795" y1="438" x2="1766" y2="438" stroke="#000" stroke-width="1.2" />
<polyline points="1795,435 1796.6,441 1798.2,435 1799.8,441 1801.4,435 1803,441 1804.7,435 1806.3,441 1807.9,435 1809.5,441 1811.1,435 1812.7,441 1814.3,435 1815.9,441 1817.5,435 1819.2,441 1820.8,435 1822.4,441 1824,435 1825.6,441 1827.2,435 1828.8,441 1830.4,435 1832,441 1833.6,435 1835.2,441 1836.9,435 1838.5,441 1840.1,435 1841.7,441 1843.3,435 1844.9,441 1846.5,435 1848.1,441 1849.7,435 1851.3,441 1853,435 1854.6,441 1856.2,435 1857.8,441 1859.4,435 1861,441 1862.6,435 1864.2,441 1865.8,435 1867.5,441 1869.1,435 1870.7,441 1872.3,435 1873.9,441 1875.5,435 1877.1,441 1878.7,435 1880.3,441 1881.9,435 1883.5,441 1885.2,435 1886.8,441 1888.4,435 1890,441 1891.6,435 1893.2,441 1894.8,435 1896.4,441 1898,435 1899.7,441 1901.3,435 1902.9,441 1904.5,435 1906.1,441 1907.7,435 1909.3,441 1910.9,435 1912.5,441 1914.1,435 1915.8,441 1917.4,435 1919,441 1920.6,435 1922.2,441 1923.8,435 1925.4,441 1927,435 1928.6,441 1930.2,435 1931.8,441 1933.5,435 1935.1,441 1936.7,435 1938.3,441 1939.9,435 1941.5,441 1943.1,435 1944.7,441 1946.3,435 1948,441 1949.6,435 1951.2,441 1952.8,435 1954.4,441 1956,435" stroke="#000" stroke-width="1.0" fill="none" />
<polyline points="1776,433 1766,438 1776,443" stroke="#000" stroke-width="1.4" fill="none" />
<path d="M2013,551 C2012,538 2025.5,538 2024.5,551 C2023.5,538 2037,538 2036,551 C2035,538 2048.5,538 2047.5,551 C2046.5,538 2060,538 2059,551 C2058,538 2071.5,538 2070.5,551 C2069.5,538 2083,538 2082,551 C2081,538 2094.5,538 2093.5,551 C2092.5,538 2106,538 2105,551 C2104,538 2117.5,538 2116.5,551 C2115.5,538 2129,538 2128,551 C2127,538 2140.5,538 2139.5,551 C2138.5,538 2152,538 2151,551" stroke="#000" stroke-width="1.2" fill="none" />
<circle cx="2013" cy="550" r="1.6" fill="#000" />
<circle cx="2024.5" cy="550" r="1.6" fill="#000" />
<circle cx="2036" cy="550" r="1.6" fill="#000" />
<circle cx="2047.5" cy="550" r="1.6" fill="#000" />
<circle cx="2059" cy="550" r="1.6" fill="#000" />
<circle cx="2070.5" cy="550" r="1.6" fill="#000" />
<circle cx="2082" cy="550" r="1.6" fill="#000" />
<circle cx="2093.5" cy="550" r="1.6" fill="#000" />
<circle cx="2105" cy="550" r="1.6" fill="#000" />
<circle cx="2116.5" cy="550" r="1.6" fill="#000" />
<circle cx="2128" cy="550" r="1.6" fill="#000" />
<circle cx="2139.5" cy="550" r="1.6" fill="#000" />
<circle cx="2151" cy="550" r="1.6" fill="#000" />
<line x1="2151" y1="551" x2="2171" y2="551" stroke="#000" stroke-width="1.1" />
<polyline points="2165,547 2171,551" stroke="#000" stroke-width="1.2" fill="none" />
<line x1="2174" y1="556" x2="2203" y2="556" stroke="#000" stroke-width="1.2" />
<polyline points="2013,553 2014.6,559 2016.2,553 2017.8,559 2019.4,553 2021,559 2022.7,553 2024.3,559 2025.9,553 2027.5,559 2029.1,553 2030.7,559 2032.3,553 2033.9,559 2035.5,553 2037.2,559 2038.8,553 2040.4,559 2042,553 2043.6,559 2045.2,553 2046.8,559 2048.4,553 2050,559 2051.6,553 2053.2,559 2054.9,553 2056.5,559 2058.1,553 2059.7,559 2061.3,553 2062.9,559 2064.5,553 2066.1,559 2067.7,553 2069.3,559 2071,553 2072.6,559 2074.2,553 2075.8,559 2077.4,553 2079,559 2080.6,553 2082.2,559 2083.8,553 2085.4,559 2087.1,553 2088.7,559 2090.3,553 2091.9,559 2093.5,553 2095.1,559 2096.7,553 2098.3,559 2099.9,553 2101.6,559 2103.2,553 2104.8,559 2106.4,553 2108,559 2109.6,553 2111.2,559 2112.8,553 2114.4,559 2116,553 2117.7,559 2119.3,553 2120.9,559 2122.5,553 2124.1,559 2125.7,553 2127.3,559 2128.9,553 2130.5,559 2132.1,553 2133.8,559 2135.4,553 2137,559 2138.6,553 2140.2,559 2141.8,553 2143.4,559 2145,553 2146.6,559 2148.2,553 2149.8,559 2151.5,553 2153.1,559 2154.7,553 2156.3,559 2157.9,553 2159.5,559 2161.1,553 2162.7,559 2164.3,553 2165.9,559 2167.6,553 2169.2,559 2170.8,553 2172.4,559 2174,553" stroke="#000" stroke-width="1.0" fill="none" />
<polyline points="2193,551 2203,556 2193,561" stroke="#000" stroke-width="1.4" fill="none" />
<path d="M2470,551 C2469,538 2482.3,538 2481.3,551 C2480.3,538 2493.7,538 2492.7,551 C2491.7,538 2505,538 2504,551 C2503,538 2516.3,538 2515.3,551 C2514.3,538 2527.7,538 2526.7,551 C2525.7,538 2539,538 2538,551 C2537,538 2550.3,538 2549.3,551 C2548.3,538 2561.7,538 2560.7,551 C2559.7,538 2573,538 2572,551 C2571,538 2584.3,538 2583.3,551 C2582.3,538 2595.7,538 2594.7,551 C2593.7,538 2607,538 2606,551" stroke="#000" stroke-width="1.2" fill="none" />
<circle cx="2470" cy="550" r="1.6" fill="#000" />
<circle cx="2481.3" cy="550" r="1.6" fill="#000" />
<circle cx="2492.7" cy="550" r="1.6" fill="#000" />
<circle cx="2504" cy="550" r="1.6" fill="#000" />
<circle cx="2515.3" cy="550" r="1.6" fill="#000" />
<circle cx="2526.7" cy="550" r="1.6" fill="#000" />
<circle cx="2538" cy="550" r="1.6" fill="#000" />
<circle cx="2549.3" cy="550" r="1.6" fill="#000" />
<circle cx="2560.7" cy="550" r="1.6" fill="#000" />
<circle cx="2572" cy="550" r="1.6" fill="#000" />
<circle cx="2583.3" cy="550" r="1.6" fill="#000" />
<circle cx="2594.7" cy="550" r="1.6" fill="#000" />
<circle cx="2606" cy="550" r="1.6" fill="#000" />
<line x1="2470" y1="551" x2="2450" y2="551" stroke="#000" stroke-width="1.1" />
<polyline points="2456,547 2450,551" stroke="#000" stroke-width="1.2" fill="none" />
<line x1="2447" y1="558" x2="2418" y2="558" stroke="#000" stroke-width="1.2" />
<polyline points="2447,555 2448.6,561 2450.2,555 2451.8,561 2453.4,555 2455,561 2456.6,555 2458.2,561 2459.8,555 2461.5,561 2463.1,555 2464.7,561 2466.3,555 2467.9,561 2469.5,555 2471.1,561 2472.7,555 2474.3,561 2475.9,555 2477.5,561 2479.1,555 2480.7,561 2482.3,555 2483.9,561 2485.5,555 2487.2,561 2488.8,555 2490.4,561 2492,555 2493.6,561 2495.2,555 2496.8,561 2498.4,555 2500,561 2501.6,555 2503.2,561 2504.8,555 2506.4,561 2508,555 2509.6,561 2511.2,555 2512.8,561 2514.5,555 2516.1,561 2517.7,555 2519.3,561 2520.9,555 2522.5,561 2524.1,555 2525.7,561 2527.3,555 2528.9,561 2530.5,555 2532.1,561 2533.7,555 2535.3,561 2536.9,555 2538.5,561 2540.2,555 2541.8,561 2543.4,555 2545,561 2546.6,555 2548.2,561 2549.8,555 2551.4,561 2553,555 2554.6,561 2556.2,555 2557.8,561 2559.4,555 2561,561 2562.6,555 2564.2,561 2565.8,555 2567.5,561 2569.1,555 2570.7,561 2572.3,555 2573.9,561 2575.5,555 2577.1,561 2578.7,555 2580.3,561 2581.9,555 2583.5,561 2585.1,555 2586.7,561 2588.3,555 2589.9,561 2591.5,555 2593.2,561 2594.8,555 2596.4,561 2598,555 2599.6,561 2601.2,555 2602.8,561 2604.4,555 2606,561" stroke="#000" stroke-width="1.0" fill="none" />
<polyline points="2428,553 2418,558 2428,563" stroke="#000" stroke-width="1.4" fill="none" />
<line x1="1493.5" y1="546" x2="1493.5" y2="1193.7" stroke="#000" stroke-width="1.3" />
<line x1="1493.5" y1="546" x2="1530" y2="546" stroke="#000" stroke-width="1.3" />
<line x1="1493.5" y1="1193.7" x2="1970" y2="1193.7" stroke="#c0c0c0" stroke-width="2" />
<ellipse cx="1604.6" cy="570" rx="78.6" ry="83" fill="#c8c9cb" />
<ellipse cx="1586" cy="598" rx="63.5" ry="57" fill="#c8c9cb" />
<ellipse cx="1589" cy="593.5" rx="56" ry="52" fill="#fff" />
<ellipse cx="1592" cy="585" rx="40" ry="37" fill="none" stroke="#c0c0c0" stroke-width="1.6"/>
<ellipse cx="1594.5" cy="579.7" rx="29.5" ry="26.3" fill="#c8c9cb" />
<line x1="1679" y1="546" x2="1869" y2="546" stroke="#c0c0c0" stroke-width="2.2" />
<line x1="1758.6" y1="525" x2="1758.6" y2="596.5" stroke="#c0c0c0" stroke-width="2" />
<line x1="1868.7" y1="546" x2="1868.7" y2="596" stroke="#c0c0c0" stroke-width="2" />
<line x1="1750.6" y1="554" x2="1766.6" y2="538" stroke="#c0c0c0" stroke-width="2.6" />
<text transform="translate(1846,515) scale(0.785,1)" x="0" y="17.8" font-family="Liberation Sans" font-size="51" fill="#c0c0c0" stroke="#fff" stroke-width="0.9" text-anchor="middle">104</text>
<circle cx="1909" cy="531.5" r="34" fill="#fff" stroke="#c0c0c0" stroke-width="2"/>
<circle cx="1909" cy="531.5" r="14.6" fill="none" stroke="#c0c0c0" stroke-width="1.6"/>
<polyline points="1930,494 1908,531 1932,569" stroke="#000" stroke-width="1.1" fill="none" />
<line x1="1957" y1="525" x2="1957" y2="593" stroke="#2a8c8e" stroke-width="1.2" />
<line x1="1949" y1="554" x2="1965" y2="538" stroke="#2a8c8e" stroke-width="2.6" />
<rect x="1753" y="597" width="151" height="171" fill="none" stroke="#c0c0c0" stroke-width="2.2" rx="8" />
<rect x="1758" y="602" width="141" height="161" fill="#c8c9cb"  />
<rect x="1791.7" y="769.6" width="168.3" height="361.9" fill="none" stroke="#c0c0c0" stroke-width="2.2" rx="8" />
<rect x="1796" y="774" width="161" height="353" fill="#c8c9cb"  />
<rect x="1849" y="722.7" width="53.7" height="92.3" fill="#c8c9cb" stroke="#c0c0c0" stroke-width="2.2" rx="6" />
<line x1="1962.5" y1="941" x2="1962.5" y2="1131.5" stroke="#000" stroke-width="1.3" />
<rect x="1906" y="598" width="56.5" height="168" fill="#c8c9cb" stroke="#000" stroke-width="1.4" rx="5" />
<rect x="1910" y="602" width="48" height="160" fill="#c8c9cb"  />
<rect x="1906" y="769.6" width="56.5" height="169.9" fill="#c8c9cb" stroke="#000" stroke-width="1.4" rx="5" />
<rect x="1910" y="773.6" width="48" height="161.9" fill="#c8c9cb"  />
<path d="M1862,638 L1926,635 L1929,727 L1864,732 Z" stroke="#e8e8e8" stroke-width="1" fill="#fff" />
<line x1="1885" y1="655" x2="1878" y2="717" stroke="#c0c0c0" stroke-width="1.2" />
<line x1="1905" y1="665" x2="1895" y2="722" stroke="#c0c0c0" stroke-width="1.2" />
<path d="M1862,845.5 L1926,842.5 L1929,934.5 L1864,939.5 Z" stroke="#e8e8e8" stroke-width="1" fill="#fff" />
<line x1="1885" y1="862.5" x2="1878" y2="924.5" stroke="#c0c0c0" stroke-width="1.2" />
<line x1="1905" y1="872.5" x2="1895" y2="929.5" stroke="#c0c0c0" stroke-width="1.2" />
<text transform="translate(1676,684) rotate(-90) scale(0.785,1)" x="0" y="17.8" font-family="Liberation Sans" font-size="51" fill="#c0c0c0" stroke="#fff" stroke-width="0.9" text-anchor="middle">840</text>
<line x1="1705" y1="603" x2="1705" y2="1126" stroke="#c0c0c0" stroke-width="2" />
<line x1="1686" y1="603" x2="1750" y2="603" stroke="#c0c0c0" stroke-width="2" />
<line x1="1686" y1="765" x2="1750" y2="765" stroke="#c0c0c0" stroke-width="2" />
<line x1="1686" y1="775" x2="1782" y2="775" stroke="#c0c0c0" stroke-width="2" />
<line x1="1686" y1="1126" x2="1782" y2="1126" stroke="#c0c0c0" stroke-width="2" />
<line x1="1697" y1="595" x2="1713" y2="611" stroke="#c0c0c0" stroke-width="2.6" />
<line x1="1697" y1="757" x2="1713" y2="773" stroke="#c0c0c0" stroke-width="2.6" />
<line x1="1697" y1="767" x2="1713" y2="783" stroke="#c0c0c0" stroke-width="2.6" />
<line x1="1697" y1="1118" x2="1713" y2="1134" stroke="#c0c0c0" stroke-width="2.6" />
<text transform="translate(1676,948) rotate(-90) scale(0.785,1)" x="0" y="17.8" font-family="Liberation Sans" font-size="51" fill="#c0c0c0" stroke="#fff" stroke-width="0.9" text-anchor="middle">1840</text>
<text transform="translate(1587,911) rotate(-90) scale(0.62,1)" x="0" y="12.9" font-family="Liberation Sans" font-size="37" fill="#c0c0c0" stroke="#fff" stroke-width="0.9" text-anchor="middle">LIVING ROOM</text>
<text transform="translate(1545,893) rotate(-90) scale(0.8,1)" x="0" y="11.9" font-family="Liberation Sans" font-size="34" fill="#c0c0c0" stroke="#fff" stroke-width="0.9" text-anchor="middle">??</text>
<path d="M1772,953 C1755,965 1742,985 1742,1010 C1742,1040 1758,1062 1772,1074 C1785,1060 1790,1035 1790,1010 C1790,985 1784,965 1772,953 Z" stroke="#c0c0c0" stroke-width="1.8" fill="none" />
<circle cx="1760" cy="1006" r="20" fill="none" stroke="#c0c0c0" stroke-width="1.8"/>
<circle cx="1777" cy="1005" r="8" fill="none" stroke="#c0c0c0" stroke-width="1.4"/>
<path d="M1745,985 L1604,1006 M1745,1039 L1604,1022" stroke="#c0c0c0" stroke-width="1.8" fill="none" />
<path d="M1604,1002 C1590,1000 1565,1002 1556,1008 C1552,1016 1560,1020 1575,1018 C1560,1022 1552,1028 1560,1032 C1575,1035 1595,1030 1604,1028 Z" stroke="#c0c0c0" stroke-width="1.8" fill="none" />
<path d="M1700,960 C1712,950 1722,935 1726,920 C1728,912 1735,912 1733,925 C1730,940 1722,952 1710,962" stroke="#c0c0c0" stroke-width="1.8" fill="none" />
<path d="M1615,1148 C1610,1140 1630,1138 1635,1150 C1640,1140 1665,1135 1670,1155 C1675,1175 1660,1190 1652,1195 C1660,1192 1675,1192 1670,1205 C1665,1215 1650,1208 1645,1205 L1612,1240 C1612,1260 1600,1280 1590,1275 C1580,1270 1585,1255 1575,1245 C1560,1245 1545,1235 1545,1225 C1548,1212 1565,1213 1570,1216 L1605,1180 C1598,1170 1605,1155 1615,1148 Z" stroke="#c0c0c0" stroke-width="2" fill="none" />
<circle cx="1881" cy="1206" r="57" fill="#c8c9cb" />
<circle cx="1881" cy="1206" r="15" fill="#fff" />
<rect x="1949" y="1185" width="14" height="42" fill="#fff" stroke="#000" stroke-width="1.2" />
<line x1="1796.7" y1="1134" x2="1796.7" y2="1213" stroke="#c0c0c0" stroke-width="2" />
<line x1="1869" y1="1134" x2="1869" y2="1149" stroke="#c0c0c0" stroke-width="2" />
<line x1="1957" y1="1135" x2="1957" y2="1213" stroke="#2a8c8e" stroke-width="1.2" />
<line x1="1949" y1="1201" x2="1965" y2="1185" stroke="#2a8c8e" stroke-width="2.6" />
<line x1="1708" y1="1275" x2="1708" y2="1517" stroke="#c0c0c0" stroke-width="2" />
<line x1="1689" y1="1275" x2="1784" y2="1275" stroke="#c0c0c0" stroke-width="2" />
<line x1="1689" y1="1517" x2="1768" y2="1517" stroke="#c0c0c0" stroke-width="2" />
<line x1="1700" y1="1267" x2="1716" y2="1283" stroke="#c0c0c0" stroke-width="2.6" />
<line x1="1700" y1="1509" x2="1716" y2="1525" stroke="#c0c0c0" stroke-width="2.6" />
<text transform="translate(1680,1394) rotate(-90) scale(0.785,1)" x="0" y="17.8" font-family="Liberation Sans" font-size="51" fill="#c0c0c0" stroke="#fff" stroke-width="0.9" text-anchor="middle">1261</text>
<line x1="1697" y1="1735" x2="1697" y2="1903" stroke="#c0c0c0" stroke-width="2" />
<line x1="1678" y1="1735" x2="1768" y2="1735" stroke="#c0c0c0" stroke-width="2" />
<line x1="1689" y1="1727" x2="1705" y2="1743" stroke="#c0c0c0" stroke-width="2.6" />
<text transform="translate(1668,1819.5) rotate(-90) scale(0.785,1)" x="0" y="17.8" font-family="Liberation Sans" font-size="51" fill="#000" stroke="#fff" stroke-width="0.9" text-anchor="middle">882</text>
<line x1="1689" y1="1895" x2="1705" y2="1911" stroke="#2a8c8e" stroke-width="2.6" />
<line x1="1678" y1="1903" x2="1700" y2="1903" stroke="#2a8c8e" stroke-width="1.2" />
<circle cx="1907" cy="1622" r="121" fill="#c8c9cb" />
<g transform="translate(1907,1622) rotate(0)"><rect x="-46" y="-178" width="92" height="120" rx="22" fill="#c8c9cb"/><rect x="-49" y="-178" width="8" height="70" fill="#c8c9cb"/><rect x="41" y="-178" width="8" height="70" fill="#c8c9cb"/></g>
<g transform="translate(1907,1622) rotate(60)"><rect x="-46" y="-178" width="92" height="120" rx="22" fill="#c8c9cb"/><rect x="-49" y="-178" width="8" height="70" fill="#c8c9cb"/><rect x="41" y="-178" width="8" height="70" fill="#c8c9cb"/></g>
<g transform="translate(1907,1622) rotate(120)"><rect x="-46" y="-178" width="92" height="120" rx="22" fill="#c8c9cb"/><rect x="-49" y="-178" width="8" height="70" fill="#c8c9cb"/><rect x="41" y="-178" width="8" height="70" fill="#c8c9cb"/></g>
<g transform="translate(1907,1622) rotate(180)"><rect x="-46" y="-178" width="92" height="120" rx="22" fill="#c8c9cb"/><rect x="-49" y="-178" width="8" height="70" fill="#c8c9cb"/><rect x="41" y="-178" width="8" height="70" fill="#c8c9cb"/></g>
<g transform="translate(1907,1622) rotate(-60)"><rect x="-46" y="-178" width="92" height="120" rx="22" fill="#c8c9cb"/><rect x="-49" y="-178" width="8" height="70" fill="#c8c9cb"/><rect x="41" y="-178" width="8" height="70" fill="#c8c9cb"/></g>
<g transform="translate(1907,1622) rotate(-120)"><rect x="-46" y="-178" width="92" height="120" rx="22" fill="#c8c9cb"/><rect x="-49" y="-178" width="8" height="70" fill="#c8c9cb"/><rect x="41" y="-178" width="8" height="70" fill="#c8c9cb"/></g>
<rect x="1853.8" y="1620" width="106.8" height="74" fill="#fff"  />
<line x1="1853.8" y1="1685.6" x2="1960.6" y2="1685.6" stroke="#c8c9cb" stroke-width="2.5" />
<text transform="translate(1907,1652) scale(0.785,1)" x="0" y="17.8" font-family="Liberation Sans" font-size="51" fill="#c0c0c0" stroke="#fff" stroke-width="0.9" text-anchor="middle">1260</text>
<text transform="translate(2119,1651) scale(0.785,1)" x="0" y="17.8" font-family="Liberation Sans" font-size="51" fill="#000" stroke="#fff" stroke-width="0.9" text-anchor="middle">1029</text>
<line x1="2060" y1="1681" x2="2217" y2="1681" stroke="#c0c0c0" stroke-width="2" />
<line x1="2209" y1="1689" x2="2225" y2="1673" stroke="#2a8c8e" stroke-width="2.6" />
<rect x="2197.8" y="600.4" width="402.2" height="359.6" fill="#c8c9cb"  />
<line x1="2212" y1="600.4" x2="2618.5" y2="600.4" stroke="#000" stroke-width="1.4" />
<rect x="2600" y="600.4" width="4" height="359.6" fill="#c8c9cb"  />
<line x1="2600" y1="600" x2="2600" y2="960" stroke="#000" stroke-width="1.2" />
<line x1="2544" y1="600" x2="2544" y2="849" stroke="#000" stroke-width="1.3" />
<line x1="2544" y1="773" x2="2581" y2="773" stroke="#000" stroke-width="1.2" />
<line x1="2544" y1="783" x2="2581" y2="783" stroke="#000" stroke-width="1.2" />
<line x1="2560" y1="606" x2="2596" y2="606" stroke="#000" stroke-width="1.2" />
<path d="M2544,849 C2540,870 2530,866 2480,866 C2470,870 2470,880 2470,900 L2470,945 C2468,952 2462,955 2450,956" stroke="#000" stroke-width="1.2" fill="none" />
<path d="M2544,860 C2535,880 2520,895 2500,920 C2480,945 2470,955 2460,955" stroke="#000" stroke-width="1.2" fill="none" />
<path d="M2512,903 L2512,945 C2512,955 2520,956 2530,956 L2580,956" stroke="#000" stroke-width="1.2" fill="none" />
<line x1="2400" y1="960" x2="2486" y2="960" stroke="#000" stroke-width="1.3" />
<ellipse cx="2460" cy="1036" rx="45" ry="48" fill="#c8c9cb" />
<rect x="2486.6" y="960" width="113.4" height="150" fill="none" stroke="#000" stroke-width="1.4" />
<rect x="2490" y="963.6" width="107" height="143.4" fill="#c8c9cb" stroke="#000" stroke-width="1.1" />
<rect x="2501.6" y="993" width="94.4" height="75" fill="#fff"  />
<text transform="translate(2542,1031) scale(0.785,1)" x="0" y="17.8" font-family="Liberation Sans" font-size="51" fill="#000" stroke="#fff" stroke-width="0.9" text-anchor="middle">600</text>
<line x1="2480" y1="1061" x2="2607" y2="1061" stroke="#2a8c8e" stroke-width="1.3" />
<line x1="2472" y1="1069" x2="2488" y2="1053" stroke="#2a8c8e" stroke-width="2.6" />
<line x1="2599" y1="1069" x2="2615" y2="1053" stroke="#2a8c8e" stroke-width="2.6" />
<line x1="2419.5" y1="960" x2="2419.5" y2="1113" stroke="#000" stroke-width="1.3" />
<line x1="2411.5" y1="952" x2="2427.5" y2="968" stroke="#000" stroke-width="2.6" />
<line x1="2411.5" y1="1105" x2="2427.5" y2="1121" stroke="#000" stroke-width="2.6" />
<text transform="translate(2391.5,1036) rotate(-90) scale(0.785,1)" x="0" y="17.8" font-family="Liberation Sans" font-size="51" fill="#000" stroke="#fff" stroke-width="0.9" text-anchor="middle">800</text>
<text transform="translate(2410,1089) scale(0.785,1)" x="0" y="17.8" font-family="Liberation Sans" font-size="51" fill="#c0c0c0" stroke="#fff" stroke-width="0.9" text-anchor="middle">1990</text>
<line x1="2696.4" y1="529" x2="2696.4" y2="1117" stroke="#2a8c8e" stroke-width="1.3" />
<line x1="2688.4" y1="521" x2="2704.4" y2="537" stroke="#2a8c8e" stroke-width="2.6" />
<line x1="2688.4" y1="1109" x2="2704.4" y2="1125" stroke="#2a8c8e" stroke-width="2.6" />
<line x1="2620" y1="529" x2="2716" y2="529" stroke="#2a8c8e" stroke-width="1.2" />
<line x1="2628" y1="1117" x2="2716" y2="1117" stroke="#2a8c8e" stroke-width="1.2" />
<text transform="translate(2667,823) rotate(-90) scale(0.785,1)" x="0" y="17.8" font-family="Liberation Sans" font-size="51" fill="#000" stroke="#fff" stroke-width="0.9" text-anchor="middle">3080</text>
<polyline points="2618,858 2750.6,752 2916,752" stroke="#000" stroke-width="1.3" fill="none" />
<line x1="2750.6" y1="752" x2="2916" y2="752" stroke="#000" stroke-width="2.4" />
<text x="2852" y="742.2" font-family="Liberation Sans" font-size="31" fill="#000" text-anchor="middle">半截床头</text>
<rect x="2236.5" y="1113.6" width="379.5" height="113.9" fill="none" stroke="#000" stroke-width="2.5" />
<rect x="2240" y="1117.7" width="372" height="105.3" fill="#c8c9cb" stroke="#000" stroke-width="1.3" />
<line x1="2240" y1="1169.6" x2="2612" y2="1169.6" stroke="#f4f4f4" stroke-width="1.6" />
<polygon points="2244,1132 2248,1132 2253,1210 2249,1210" stroke="#2a8c8e" stroke-width="1.0" fill="#d8f0f0" />
<polygon points="2263,1132 2267,1132 2272,1210 2268,1210" stroke="#2a8c8e" stroke-width="1.0" fill="#d8f0f0" />
<polygon points="2282,1132 2286,1132 2291,1210 2287,1210" stroke="#2a8c8e" stroke-width="1.0" fill="#d8f0f0" />
<polygon points="2301.1,1132 2305.1,1132 2310.1,1210 2306.1,1210" stroke="#2a8c8e" stroke-width="1.0" fill="#d8f0f0" />
<polygon points="2320.1,1132 2324.1,1132 2329.1,1210 2325.1,1210" stroke="#2a8c8e" stroke-width="1.0" fill="#d8f0f0" />
<polygon points="2339.1,1132 2343.1,1132 2348.1,1210 2344.1,1210" stroke="#2a8c8e" stroke-width="1.0" fill="#d8f0f0" />
<polygon points="2358.1,1132 2362.1,1132 2367.1,1210 2363.1,1210" stroke="#2a8c8e" stroke-width="1.0" fill="#d8f0f0" />
<polygon points="2377.1,1132 2381.1,1132 2386.1,1210 2382.1,1210" stroke="#2a8c8e" stroke-width="1.0" fill="#d8f0f0" />
<polygon points="2396.2,1132 2400.2,1132 2405.2,1210 2401.2,1210" stroke="#2a8c8e" stroke-width="1.0" fill="#d8f0f0" />
<polygon points="2415.2,1132 2419.2,1132 2424.2,1210 2420.2,1210" stroke="#2a8c8e" stroke-width="1.0" fill="#d8f0f0" />
<polygon points="2434.2,1132 2438.2,1132 2443.2,1210 2439.2,1210" stroke="#2a8c8e" stroke-width="1.0" fill="#d8f0f0" />
<polygon points="2453.2,1132 2457.2,1132 2462.2,1210 2458.2,1210" stroke="#2a8c8e" stroke-width="1.0" fill="#d8f0f0" />
<polygon points="2472.2,1132 2476.2,1132 2481.2,1210 2477.2,1210" stroke="#2a8c8e" stroke-width="1.0" fill="#d8f0f0" />
<polygon points="2491.3,1132 2495.3,1132 2500.3,1210 2496.3,1210" stroke="#2a8c8e" stroke-width="1.0" fill="#d8f0f0" />
<polygon points="2510.3,1132 2514.3,1132 2519.3,1210 2515.3,1210" stroke="#2a8c8e" stroke-width="1.0" fill="#d8f0f0" />
<polygon points="2529.3,1132 2533.3,1132 2538.3,1210 2534.3,1210" stroke="#2a8c8e" stroke-width="1.0" fill="#d8f0f0" />
<polygon points="2548.3,1132 2552.3,1132 2557.3,1210 2553.3,1210" stroke="#2a8c8e" stroke-width="1.0" fill="#d8f0f0" />
<polygon points="2567.3,1132 2571.3,1132 2576.3,1210 2572.3,1210" stroke="#2a8c8e" stroke-width="1.0" fill="#d8f0f0" />
<polygon points="2586.4,1132 2590.4,1132 2595.4,1210 2591.4,1210" stroke="#2a8c8e" stroke-width="1.0" fill="#d8f0f0" />
<rect x="2024.4" y="1090" width="6" height="162" fill="none" stroke="#000" stroke-width="2.5" />
<line x1="2024" y1="1252" x2="2197" y2="1252" stroke="#000" stroke-width="2.5" />
<path d="M2030,1092 A166,160 0 0 1 2197,1252" stroke="#000" stroke-width="1.8" fill="none" />
<text transform="translate(2163.7,1170.7) rotate(-90) scale(0.785,1)" x="0" y="17.8" font-family="Liberation Sans" font-size="51" fill="#000" stroke="#fff" stroke-width="0.9" text-anchor="middle">600</text>
<line x1="2191.7" y1="1113.6" x2="2191.7" y2="1227.5" stroke="#2a8c8e" stroke-width="1.3" />
<line x1="2183.7" y1="1105.6" x2="2199.7" y2="1121.6" stroke="#2a8c8e" stroke-width="2.6" />
<line x1="2183.7" y1="1219.5" x2="2199.7" y2="1235.5" stroke="#2a8c8e" stroke-width="2.6" />
<line x1="2173" y1="1113.6" x2="2232.8" y2="1113.6" stroke="#2a8c8e" stroke-width="1.2" />
<line x1="2173" y1="1227.5" x2="2236" y2="1227.5" stroke="#2a8c8e" stroke-width="1.2" />
<line x1="2206" y1="1121.6" x2="2222" y2="1105.6" stroke="#2a8c8e" stroke-width="2.6" />
<line x1="2592" y1="1125" x2="2608" y2="1109" stroke="#2a8c8e" stroke-width="2.6" />
<rect x="2228" y="1292.5" width="147" height="5.2" fill="none" stroke="#000" stroke-width="2.5" />
<line x1="2228" y1="1292.5" x2="2228" y2="1439" stroke="#000" stroke-width="2.5" />
<path d="M2375,1298 A147,147 0 0 1 2228,1445" stroke="#000" stroke-width="1.8" fill="none" />
<rect x="2216.8" y="1439.5" width="22.8" height="112.2" fill="none" stroke="#000" stroke-width="2.5" />
<rect x="2444" y="1247" width="10" height="76" fill="#fff" stroke="#000" stroke-width="1.5" />
<rect x="2520" y="1283" width="43" height="41.5" fill="#000"  />
<rect x="2528" y="1291" width="27" height="25" fill="none" stroke="#888" stroke-width="1" stroke-dasharray="2,2"/>
<rect x="2538.5" y="1250" width="7" height="33" fill="#000"  />
<path d="M2527,1247.6 L2558,1247.6 L2558,1250 C2550,1253 2535,1253 2527,1250 Z" stroke="#000" stroke-width="1" fill="#000" />
<rect x="2509.7" y="1247.6" width="10.5" height="2.2" fill="#000"  />
<rect x="2513.5" y="1247.6" width="2.9" height="9.2" fill="#000"  />
<rect x="2509.7" y="1254.6" width="10.5" height="2.2" fill="#000"  />
<rect x="2563" y="1247.6" width="10.5" height="2.2" fill="#000"  />
<rect x="2566.8" y="1247.6" width="2.9" height="9.2" fill="#000"  />
<rect x="2563" y="1254.6" width="10.5" height="2.2" fill="#000"  />
<path d="M2269.6,1526 C2266,1515 2268,1500 2276,1484 C2280,1475 2287,1463 2293.9,1453 C2290,1440 2288,1424 2289.8,1404.7 C2291,1392 2294,1383 2298.7,1382 C2303,1382 2306,1386 2306.8,1390 C2307,1400 2307.6,1412.8 2307.6,1412.8 C2310,1420 2315,1430 2316.5,1433.9 L2317.3,1451.6 L2340.8,1452.5 C2341,1445 2342,1438 2342.4,1430.6 C2345,1424 2348,1419 2348.9,1417.7 C2352,1415 2355,1414.5 2357.8,1414.4 C2362,1410 2366,1406 2369.9,1404.7 C2373,1403 2376,1402.5 2378,1403 C2383,1405 2385,1408 2384.5,1411 C2384,1420 2382,1426 2381,1430.6 C2377,1440 2373,1450 2371.5,1456.5 C2374,1465 2377,1475 2378,1482.4 C2379,1495 2379,1505 2378,1510 C2375,1514 2371,1515 2368,1516.4 L2365,1518 C2355,1528 2348,1534 2340.8,1535.8 L2297,1532.5 L2276,1529 Z" stroke="#000" stroke-width="1.1" fill="#fff" />
<path d="M2276,1509 C2285,1500 2292,1496 2297,1490 C2305,1488 2312,1486 2318,1483 M2293.9,1453 C2298,1445 2302,1440 2306,1438 M2348.9,1417.7 C2352,1426 2357,1440 2362,1452 L2366,1482 L2340,1480" stroke="#000" stroke-width="0.9" fill="none" />
<path d="M2289.8,1410 C2295,1405 2300,1406 2305,1410 M2358,1414 C2362,1412 2370,1412 2375,1418 L2370,1450" stroke="#000" stroke-width="0.9" fill="none" />
<path d="M2318,1451.6 L2340.8,1452.5 L2327.8,1482.4 Z" stroke="#000" stroke-width="1" fill="#000" />
<ellipse cx="2323" cy="1504" rx="15.4" ry="19.4" fill="#fff" stroke="#000" stroke-width="1.1"/>
<path d="M2276,1529 L2297,1532.5 L2340.8,1535.8 C2350,1532 2358,1524 2365,1518 L2369,1578 L2276,1578 Z" stroke="#000" stroke-width="1" fill="#000" />
<rect x="2371.5" y="1556" width="27.5" height="22" fill="#000"  />
<line x1="2369" y1="1541" x2="2410" y2="1507.5" stroke="#000" stroke-width="1.2" />
<text transform="translate(2442,1491) scale(0.785,1)" x="0" y="17.8" font-family="Liberation Sans" font-size="51" fill="#000" stroke="#fff" stroke-width="0.9" text-anchor="middle">2125</text>
<text x="2515" y="1497.8" font-family="Liberation Sans" font-size="30" fill="#000" text-anchor="middle">烟道加固</text>
<line x1="2410" y1="1507.5" x2="2575" y2="1507.5" stroke="#000" stroke-width="2.0" />
<line x1="2240.6" y1="1521" x2="2645" y2="1521" stroke="#2a8c8e" stroke-width="1.3" />
<line x1="2232.6" y1="1529" x2="2248.6" y2="1513" stroke="#2a8c8e" stroke-width="2.6" />
<line x1="2637" y1="1529" x2="2653" y2="1513" stroke="#2a8c8e" stroke-width="2.6" />
<line x1="2645" y1="1501" x2="2645" y2="1564" stroke="#2a8c8e" stroke-width="1.2" />
<rect x="2240.6" y="1573" width="159.4" height="41" fill="none" stroke="#000" stroke-width="1.8" />
<rect x="2243.6" y="1576" width="154" height="35" fill="#c8c9cb" stroke="#000" stroke-width="1.4" />
<line x1="2321.4" y1="1576" x2="2321.4" y2="1611" stroke="#000" stroke-width="1.2" />
<line x1="2243.6" y1="1576" x2="2321.4" y2="1611" stroke="#000" stroke-width="1.2" />
<line x1="2321.4" y1="1576" x2="2243.6" y2="1611" stroke="#000" stroke-width="1.2" />
<line x1="2321.4" y1="1611" x2="2397.6" y2="1576" stroke="#000" stroke-width="1.2" />
<line x1="2321.4" y1="1576" x2="2397.6" y2="1611" stroke="#000" stroke-width="1.2" />
<rect x="2240.6" y="1615" width="159.4" height="49.6" fill="none" stroke="#000" stroke-width="1.8" />
<polygon points="2241,1615 2316,1615 2316,1664 2300,1645 2264,1645" stroke="#000" stroke-width="1.2" fill="#c8c9cb" />
<line x1="2316" y1="1615" x2="2316" y2="1664.6" stroke="#000" stroke-width="1.3" />
<circle cx="2340" cy="1640" r="15" fill="none" stroke="#000" stroke-width="1.1"/>
<circle cx="2377" cy="1640" r="15" fill="none" stroke="#000" stroke-width="1.1"/>
<line x1="2279" y1="1614" x2="2322" y2="1576" stroke="#000" stroke-width="1.2" />
<rect x="2402.8" y="1573" width="240.9" height="107.7" fill="none" stroke="#000" stroke-width="2.5" />
<rect x="2406" y="1576.7" width="235" height="103.3" fill="#c8c9cb"  />
<rect x="2406" y="1576.7" width="235" height="103.3" fill="none" stroke="#000" stroke-width="1.2" />
<rect x="2476" y="1590.8" width="110.7" height="78.2" fill="#fff" stroke="#000" stroke-width="1.2" />
<rect x="2483.6" y="1597.5" width="102.2" height="57" fill="#b9d4d6" stroke="#000" stroke-width="1.2" />
<circle cx="2531" cy="1631" r="4" fill="none" stroke="#000" stroke-width="1"/>
<circle cx="2531" cy="1662" r="4" fill="none" stroke="#000" stroke-width="1"/>
<line x1="2531" y1="1635" x2="2531" y2="1658" stroke="#000" stroke-width="2" />
<rect x="2643.7" y="1573" width="24.3" height="132.7" fill="#000"  />
<rect x="2401" y="1683" width="267" height="22.7" fill="#000"  />
<text transform="translate(2575.7,1628) rotate(-90) scale(0.785,1)" x="0" y="17.8" font-family="Liberation Sans" font-size="51" fill="#000" stroke="#fff" stroke-width="0.9" text-anchor="middle">580</text>
<line x1="2605" y1="1573" x2="2605" y2="1680" stroke="#2a8c8e" stroke-width="1.3" />
<line x1="2597" y1="1565" x2="2613" y2="1581" stroke="#2a8c8e" stroke-width="2.6" />
<line x1="2597" y1="1672" x2="2613" y2="1688" stroke="#2a8c8e" stroke-width="2.6" />
<rect x="2644.4" y="1400" width="24.2" height="39.3" fill="#000"  />
<circle cx="2689.4" cy="1426.3" r="9" fill="none" stroke="#000" stroke-width="1.1"/>
<circle cx="2689.4" cy="1426.3" r="5.5" fill="none" stroke="#000" stroke-width="1"/>
<rect x="2821.5" y="1400" width="113.7" height="174" fill="#c8c9cb"  />
<rect x="2837" y="1400" width="85" height="71" fill="#fff"  />
<rect x="2839" y="1437" width="77.8" height="110" fill="#fff" stroke="#000" stroke-width="1.2" />
<rect x="2846.6" y="1444" width="57.2" height="96.5" fill="#b9d4d6" stroke="#000" stroke-width="1.2" />
<line x1="2821.5" y1="1574" x2="2935" y2="1574" stroke="#000" stroke-width="2.5" />
<line x1="2821.5" y1="1400" x2="2821.5" y2="1574" stroke="#000" stroke-width="1.2" />
<polyline points="2875,1493 2900,1493" stroke="#000" stroke-width="2.0" fill="none" />
<circle cx="2878" cy="1493" r="4" fill="none" stroke="#000" stroke-width="1"/>
<circle cx="2903" cy="1493" r="4" fill="none" stroke="#000" stroke-width="1"/>
<text transform="translate(2877.8,1433.4) scale(0.785,1)" x="0" y="17.8" font-family="Liberation Sans" font-size="51" fill="#000" stroke="#fff" stroke-width="0.9" text-anchor="middle">600</text>
<line x1="2821.5" y1="1463" x2="2935" y2="1463" stroke="#2a8c8e" stroke-width="1.3" />
<line x1="2813.5" y1="1471" x2="2829.5" y2="1455" stroke="#2a8c8e" stroke-width="2.6" />
<line x1="2927" y1="1471" x2="2943" y2="1455" stroke="#2a8c8e" stroke-width="2.6" />
<line x1="2821.5" y1="1420" x2="2821.5" y2="1480" stroke="#2a8c8e" stroke-width="1.2" />
<line x1="2935" y1="1420" x2="2935" y2="1480" stroke="#2a8c8e" stroke-width="1.2" />
<line x1="2769" y1="1400" x2="2769" y2="1574" stroke="#2a8c8e" stroke-width="1.3" />
<line x1="2761" y1="1392" x2="2777" y2="1408" stroke="#2a8c8e" stroke-width="2.6" />
<line x1="2761" y1="1566" x2="2777" y2="1582" stroke="#2a8c8e" stroke-width="2.6" />
<line x1="2740" y1="1574" x2="2822" y2="1574" stroke="#2a8c8e" stroke-width="1.2" />
<text transform="translate(2740,1486.6) rotate(-90) scale(0.785,1)" x="0" y="17.8" font-family="Liberation Sans" font-size="51" fill="#000" stroke="#fff" stroke-width="0.9" text-anchor="middle">910</text>
<rect x="2674.5" y="1574" width="108" height="107.6" fill="#fff" stroke="#000" stroke-width="1.6" />
<rect x="2674.5" y="1594.8" width="108" height="66.2" fill="#c8c9cb" stroke="#000" stroke-width="1.3" />
<circle cx="2689" cy="1585" r="2.5" fill="none" stroke="#000" stroke-width="1"/>
<circle cx="2683" cy="1669" r="2.5" fill="none" stroke="#000" stroke-width="1"/>
<rect x="2705" y="1578" width="14" height="4" fill="none" stroke="#000" stroke-width="1" />
<rect x="2705" y="1587" width="14" height="4" fill="none" stroke="#000" stroke-width="1" />
<rect x="2729" y="1579" width="48" height="11" fill="none" stroke="#000" stroke-width="1" />
<line x1="2745" y1="1579" x2="2745" y2="1590" stroke="#000" stroke-width="1" />
<line x1="2729" y1="1584.5" x2="2745" y2="1584.5" stroke="#000" stroke-width="1" />
<rect x="2804.5" y="1614.7" width="80.8" height="62.3" fill="#c8c9cb" stroke="#000" stroke-width="2.2" />
<rect x="2896.7" y="1615.4" width="38.3" height="49.6" fill="#fff" stroke="#000" stroke-width="1.4" />
<circle cx="2916.3" cy="1641.4" r="15" fill="none" stroke="#000" stroke-width="1.1"/>
<line x1="2668.6" y1="1682" x2="2896.7" y2="1682" stroke="#000" stroke-width="2.5" />
<line x1="2668.6" y1="1694.6" x2="2896.7" y2="1694.6" stroke="#000" stroke-width="1.6" />
<line x1="2811" y1="1682" x2="2811" y2="1705" stroke="#000" stroke-width="1.6" />
<line x1="2896.7" y1="1665" x2="2896.7" y2="1705" stroke="#000" stroke-width="1.6" />
<rect x="2644.4" y="1571.7" width="24.2" height="134.3" fill="#000"  />
<rect x="2831" y="1706" width="104.8" height="321" fill="#c8c9cb"  />
<rect x="2263.6" y="1922" width="672.2" height="105" fill="#c8c9cb"  />
<rect x="2839.5" y="1730.8" width="93.3" height="144.2" fill="#fff" stroke="#000" stroke-width="1.2" />
<rect x="2845" y="1736" width="81.5" height="135" fill="#b9d4d6" stroke="#000" stroke-width="1.2" rx="10" />
<polygon points="2899,1789 2931,1799 2915,1820 2911,1817 2924,1802 2898,1793" stroke="#000" stroke-width="1" fill="#fff" />
<rect x="2869" y="1935" width="66.8" height="92" fill="#c8c9cb" stroke="#000" stroke-width="1.3" />
<polygon points="2935,1940 2915,1990 2896,1990 2887,1995 2869,2027 2935,2027" stroke="#000" stroke-width="1.3" fill="#fff" />
<rect x="2614" y="1931" width="137.7" height="84" fill="#fff" stroke="#000" stroke-width="1.5" />
<rect x="2623.6" y="1936" width="119.9" height="56" fill="#fff" stroke="#000" stroke-width="1.3" />
<line x1="2614" y1="2000.7" x2="2751.7" y2="2000.7" stroke="#000" stroke-width="1.3" />
<rect x="2635" y="1946" width="34" height="35" fill="none" stroke="#000" stroke-width="1.1" rx="7" />
<rect x="2638" y="1949" width="28" height="29" fill="none" stroke="#000" stroke-width="0.9" rx="6" />
<circle cx="2652" cy="1963" r="9" fill="none" stroke="#000" stroke-width="1.1"/>
<rect x="2693.6" y="1946" width="34" height="35" fill="none" stroke="#000" stroke-width="1.1" rx="7" />
<rect x="2696.6" y="1949" width="28" height="29" fill="none" stroke="#000" stroke-width="0.9" rx="6" />
<circle cx="2710.6" cy="1963" r="9" fill="none" stroke="#000" stroke-width="1.1"/>
<circle cx="2654" cy="2008" r="5" fill="none" stroke="#000" stroke-width="1"/>
<circle cx="2713" cy="2008" r="5" fill="none" stroke="#000" stroke-width="1"/>
<rect x="2671" y="2004" width="26" height="7" fill="none" stroke="#000" stroke-width="1" />
<rect x="2494" y="2008" width="97" height="19" fill="#fff" stroke="#000" stroke-width="1.3" />
<circle cx="2512" cy="2017.5" r="3" fill="none" stroke="#000" stroke-width="1"/>
<circle cx="2530" cy="2017.5" r="3" fill="none" stroke="#000" stroke-width="1"/>
<circle cx="2548" cy="2017.5" r="3" fill="none" stroke="#000" stroke-width="1"/>
<circle cx="2566" cy="2017.5" r="3" fill="none" stroke="#000" stroke-width="1"/>
<text transform="translate(2714,1815.5) rotate(-90) scale(0.785,1)" x="0" y="17.8" font-family="Liberation Sans" font-size="51" fill="#000" stroke="#fff" stroke-width="0.9" text-anchor="middle">1130</text>
<line x1="2743.5" y1="1706" x2="2743.5" y2="1922" stroke="#2a8c8e" stroke-width="1.3" />
<line x1="2735.5" y1="1698" x2="2751.5" y2="1714" stroke="#2a8c8e" stroke-width="2.6" />
<line x1="2735.5" y1="1914" x2="2751.5" y2="1930" stroke="#2a8c8e" stroke-width="2.6" />
<line x1="2720" y1="1706" x2="2831" y2="1706" stroke="#2a8c8e" stroke-width="1.2" />
<line x1="2720" y1="1922" x2="2822" y2="1922" stroke="#2a8c8e" stroke-width="1.2" />
<text transform="translate(2532,1810) scale(0.785,1)" x="0" y="17.8" font-family="Liberation Sans" font-size="51" fill="#000" stroke="#fff" stroke-width="0.9" text-anchor="middle">3095</text>
<line x1="2240" y1="1839" x2="2831" y2="1839" stroke="#2a8c8e" stroke-width="1.3" />
<line x1="2232" y1="1847" x2="2248" y2="1831" stroke="#2a8c8e" stroke-width="2.6" />
<line x1="2823" y1="1847" x2="2839" y2="1831" stroke="#2a8c8e" stroke-width="2.6" />
<line x1="2240.5" y1="1821" x2="2240.5" y2="1912.5" stroke="#2a8c8e" stroke-width="1.2" />
<text x="3157" y="1851.2" font-family="Liberation Sans" font-size="31" fill="#000" text-anchor="middle">烟道加固</text>
<polyline points="2921.6,1968.6 3056,1860 3219,1860" stroke="#000" stroke-width="1.3" fill="none" />
<rect x="1752.4" y="1912.6" width="318.6" height="114.7" fill="#c8c9cb"  />
<line x1="1752.4" y1="1912.6" x2="2071" y2="1912.6" stroke="#000" stroke-width="1.5" />
<line x1="1752.4" y1="1912.6" x2="1752.4" y2="2027.3" stroke="#000" stroke-width="1.5" />
<line x1="1828" y1="1912.6" x2="1828" y2="2027.3" stroke="#000" stroke-width="1.3" />
<line x1="1828" y1="1960" x2="2071" y2="1960" stroke="#000" stroke-width="1.3" />
<rect x="2071" y="1912.6" width="146" height="114.7" fill="#000"  />
<polygon points="2075,1912 2143,1893 2150,1912" stroke="#000" stroke-width="1" fill="#000" />
<rect x="2225" y="1759.5" width="8.5" height="178.1" fill="#fff" stroke="#000" stroke-width="1.5" />
<rect x="2217" y="1849" width="8" height="178" fill="#fff" stroke="#000" stroke-width="1.5" />
<rect x="2241" y="1922" width="22.6" height="105" fill="#000"  />
<pattern id="hp" width="5" height="5" patternUnits="userSpaceOnUse" patternTransform="rotate(-45)"><rect width="5" height="5" fill="#555"/><line x1="0" y1="0" x2="0" y2="5" stroke="#fff" stroke-width="1.8"/></pattern>
<rect x="1700" y="1903.4" width="52.4" height="99.1" fill="url(#hp)" stroke="#000" stroke-width="1.2" />
<text transform="translate(1790,1849) scale(0.785,1)" x="0" y="17.8" font-family="Liberation Sans" font-size="51" fill="#000" stroke="#fff" stroke-width="0.9" text-anchor="middle">400</text>
<text transform="translate(1949,1849) scale(0.785,1)" x="0" y="17.8" font-family="Liberation Sans" font-size="51" fill="#000" stroke="#fff" stroke-width="0.9" text-anchor="middle">1275</text>
<text transform="translate(2147,1838) scale(0.785,1)" x="0" y="17.8" font-family="Liberation Sans" font-size="51" fill="#000" stroke="#fff" stroke-width="0.9" text-anchor="middle">765</text>
<text x="1976" y="1833.8" font-family="Liberation Sans" font-size="30" fill="#000" text-anchor="middle">零食柜</text>
<text x="2095" y="1844.8" font-family="Liberation Sans" font-size="30" fill="#000" text-anchor="middle">西厨</text>
<line x1="1752.4" y1="1878" x2="2071" y2="1878" stroke="#2a8c8e" stroke-width="1.3" />
<line x1="1744.4" y1="1886" x2="1760.4" y2="1870" stroke="#2a8c8e" stroke-width="2.6" />
<line x1="1820" y1="1886" x2="1836" y2="1870" stroke="#2a8c8e" stroke-width="2.6" />
<line x1="2063" y1="1886" x2="2079" y2="1870" stroke="#2a8c8e" stroke-width="2.6" />
<line x1="1736" y1="1878" x2="1752" y2="1878" stroke="#2a8c8e" stroke-width="1.2" />
<line x1="2071" y1="1866.7" x2="2217" y2="1866.7" stroke="#2a8c8e" stroke-width="1.3" />
<line x1="2063" y1="1874.7" x2="2079" y2="1858.7" stroke="#2a8c8e" stroke-width="2.6" />
<line x1="2209" y1="1874.7" x2="2225" y2="1858.7" stroke="#2a8c8e" stroke-width="2.6" />
<line x1="1752.4" y1="1860" x2="1752.4" y2="1903" stroke="#2a8c8e" stroke-width="1.2" />
<line x1="1828" y1="1860" x2="1828" y2="1903" stroke="#2a8c8e" stroke-width="1.2" />
<line x1="2071" y1="1848" x2="2071" y2="1903" stroke="#2a8c8e" stroke-width="1.2" />
<polyline points="1775,1942.5 1863,1849 2006,1849" stroke="#000" stroke-width="1.3" fill="none" />
<polyline points="1910.5,1954.4 1999,1860 2141,1860" stroke="#000" stroke-width="1.3" fill="none" />
<line x1="2135.7" y1="1912.6" x2="2135.7" y2="2027" stroke="#2a8c8e" stroke-width="1.3" />
<line x1="2127.7" y1="1904.6" x2="2143.7" y2="1920.6" stroke="#2a8c8e" stroke-width="2.6" />
<line x1="2127.7" y1="2019" x2="2143.7" y2="2035" stroke="#2a8c8e" stroke-width="2.6" />
<line x1="2082" y1="1912.6" x2="2155" y2="1912.6" stroke="#2a8c8e" stroke-width="1.2" />
<line x1="2082" y1="2027" x2="2155" y2="2027" stroke="#2a8c8e" stroke-width="1.2" />
<polyline points="1224.7,731 1224.7,367.6 2507,367.6 2507,484 2661.3,484 2661.3,1354.4 2981,1354.4 2981,2073.4 1706,2073.4 1706,1924" stroke="#000" stroke-width="1.35" fill="none" />
<line x1="1240" y1="383.6" x2="1958" y2="383.6" stroke="#000" stroke-width="1.35" />
<line x1="2010.6" y1="383.6" x2="2492" y2="383.6" stroke="#000" stroke-width="1.35" />
<line x1="1255" y1="398.6" x2="1958" y2="398.6" stroke="#000" stroke-width="1.35" />
<line x1="2010.6" y1="398.6" x2="2476.6" y2="398.6" stroke="#000" stroke-width="1.35" />
<line x1="1240" y1="383.6" x2="1240" y2="549" stroke="#000" stroke-width="1.35" />
<line x1="1255" y1="398.6" x2="1255" y2="549" stroke="#000" stroke-width="1.35" />
<line x1="1224.7" y1="549" x2="1270" y2="549" stroke="#000" stroke-width="1.35" />
<line x1="1958" y1="367.6" x2="1958" y2="413" stroke="#000" stroke-width="1.35" />
<line x1="1270" y1="413" x2="1970" y2="413" stroke="#000" stroke-width="1.35" />
<line x1="1270" y1="413" x2="1270" y2="1806" stroke="#000" stroke-width="1.35" />
<line x1="1970" y1="413" x2="1970" y2="1276" stroke="#000" stroke-width="1.35" />
<line x1="2010.6" y1="367.6" x2="2010.6" y2="1228.6" stroke="#000" stroke-width="1.35" />
<line x1="2010.6" y1="413" x2="2010.6" y2="530" stroke="#000" stroke-width="2.5" />
<line x1="2010.6" y1="413" x2="2460.6" y2="413" stroke="#000" stroke-width="2.5" />
<line x1="2460.6" y1="413" x2="2460.6" y2="529" stroke="#000" stroke-width="2.5" />
<line x1="2460.6" y1="529" x2="2616" y2="529" stroke="#000" stroke-width="1.35" />
<line x1="2476.6" y1="398.6" x2="2476.6" y2="464" stroke="#000" stroke-width="1.35" />
<line x1="2492" y1="383.6" x2="2492" y2="464" stroke="#000" stroke-width="1.35" />
<line x1="2460.6" y1="464" x2="2507" y2="464" stroke="#000" stroke-width="1.35" />
<line x1="2010.6" y1="568" x2="2616" y2="568" stroke="#000" stroke-width="1.35" />
<line x1="2616" y1="529" x2="2616" y2="1400" stroke="#000" stroke-width="1.35" />
<line x1="2618.5" y1="600" x2="2618.5" y2="1110" stroke="#000" stroke-width="1.35" />
<line x1="2010.6" y1="1228.6" x2="2024" y2="1228.6" stroke="#000" stroke-width="1.35" />
<line x1="1970" y1="1276" x2="2024" y2="1276" stroke="#000" stroke-width="1.35" />
<line x1="2024" y1="1228.6" x2="2024" y2="1276" stroke="#000" stroke-width="1.35" />
<polyline points="2197,1252 2197,1276 2218,1276 2218,1292.5 2228,1292.5" stroke="#000" stroke-width="1.35" fill="none" />
<line x1="691" y1="731" x2="1224.7" y2="731" stroke="#000" stroke-width="1.35" />
<line x1="706.5" y1="746" x2="1063" y2="746" stroke="#000" stroke-width="1.35" />
<line x1="721.5" y1="761.5" x2="1063" y2="761.5" stroke="#000" stroke-width="1.35" />
<line x1="736.4" y1="776" x2="1063" y2="776" stroke="#000" stroke-width="2.5" />
<line x1="706.5" y1="746" x2="706.5" y2="829" stroke="#000" stroke-width="1.35" />
<line x1="721.5" y1="761.5" x2="721.5" y2="829" stroke="#000" stroke-width="1.35" />
<line x1="691" y1="829" x2="736.4" y2="829" stroke="#000" stroke-width="1.35" />
<line x1="691" y1="731" x2="691" y2="1404.6" stroke="#000" stroke-width="1.35" />
<line x1="736.4" y1="776" x2="736.4" y2="1496" stroke="#000" stroke-width="2.5" />
<line x1="1063" y1="731" x2="1063" y2="891" stroke="#000" stroke-width="1.35" />
<line x1="1227" y1="891" x2="1227" y2="1519" stroke="#000" stroke-width="1.35" />
<polyline points="691,1359 417.5,1359 417.5,2074 1043.6,2074 1043.6,1888 1418,1888 1418,1924.6 1488,1924.6 1488,1878 1464.4,1878 1464.4,1792" stroke="#000" stroke-width="1.35" fill="none" />
<line x1="510.5" y1="1359" x2="510.5" y2="1405" stroke="#000" stroke-width="1.35" />
<line x1="510.5" y1="1374" x2="691" y2="1374" stroke="#000" stroke-width="1.35" />
<line x1="510.5" y1="1390" x2="691" y2="1390" stroke="#000" stroke-width="1.35" />
<line x1="462" y1="1405" x2="694.5" y2="1405" stroke="#000" stroke-width="2.5" />
<line x1="462" y1="1405" x2="462" y2="2029" stroke="#000" stroke-width="1.35" />
<line x1="694.7" y1="1404.4" x2="694.7" y2="1519.5" stroke="#000" stroke-width="1.35" />
<line x1="694.7" y1="1519.5" x2="940.8" y2="1519.5" stroke="#000" stroke-width="1.35" />
<line x1="462" y1="2029" x2="997" y2="2029" stroke="#000" stroke-width="1.35" />
<line x1="997" y1="1532" x2="997" y2="2029" stroke="#000" stroke-width="2.5" />
<polyline points="997,1708 1019.8,1708 1019.8,1727.6" stroke="#000" stroke-width="1.35" fill="none" />
<polyline points="998,1519.5 998,1532.5 1020.5,1532.5 1020.5,1519.5" stroke="#000" stroke-width="1.2" fill="none" />
<line x1="1043.4" y1="1519.5" x2="1043.4" y2="1726" stroke="#000" stroke-width="1.2" />
<line x1="1226.5" y1="1519.5" x2="1226.5" y2="1724" stroke="#000" stroke-width="1.2" />
<line x1="1053.6" y1="1519.5" x2="1270" y2="1519.5" stroke="#000" stroke-width="1.35" />
<line x1="1217" y1="1523.4" x2="1270" y2="1523.4" stroke="#000" stroke-width="1.2" />
<rect x="2240.6" y="1247.4" width="375.4" height="29.3" fill="none" stroke="#000" stroke-width="1.35" />
<line x1="2240.6" y1="1439.5" x2="2240.6" y2="1573" stroke="#000" stroke-width="1.35" />
<line x1="2263.4" y1="1276.7" x2="2263.4" y2="1705" stroke="#000" stroke-width="1.2" />
<polyline points="2217.4,1439 2217.4,1705.7 2668,1705.7" stroke="#000" stroke-width="1.35" fill="none" />
<line x1="2217.4" y1="1705.7" x2="2217.4" y2="2027" stroke="#000" stroke-width="1.35" />
<line x1="2616" y1="1400" x2="2935" y2="1400" stroke="#000" stroke-width="1.35" />
<line x1="2616" y1="1399" x2="2668" y2="1399" stroke="#000" stroke-width="2.5" />
<line x1="2935" y1="1400" x2="2935" y2="2027.3" stroke="#000" stroke-width="2.5" />
<line x1="1752.4" y1="2027.3" x2="2935" y2="2027.3" stroke="#000" stroke-width="1.8" />
<line x1="2263.6" y1="1706.4" x2="2263.6" y2="2027" stroke="#000" stroke-width="1.3" />
<line x1="2240" y1="1912.6" x2="2822" y2="1912.6" stroke="#000" stroke-width="1.35" />
<line x1="2240" y1="1922" x2="2831" y2="1922" stroke="#000" stroke-width="1.35" />
<line x1="2831" y1="1706" x2="2831" y2="1922" stroke="#000" stroke-width="1.35" />
<line x1="2822" y1="1706" x2="2822" y2="1912.6" stroke="#000" stroke-width="1.35" />
<line x1="2668" y1="1705.3" x2="2896.7" y2="1705.3" stroke="#000" stroke-width="1.35" />
<line x1="2710.4" y1="1354.4" x2="2710.4" y2="1400" stroke="#000" stroke-width="1.35" />
<line x1="2914.4" y1="1354.4" x2="2914.4" y2="1400" stroke="#000" stroke-width="1.35" />
<line x1="2710.4" y1="1370.7" x2="2914.4" y2="1370.7" stroke="#000" stroke-width="1.35" />
<line x1="2710.4" y1="1385.4" x2="2914.4" y2="1385.4" stroke="#000" stroke-width="1.35" />
<rect x="1668.5" y="1878.5" width="83.9" height="45.5" fill="none" stroke="#000" stroke-width="1.35" />
<line x1="462" y1="81" x2="2935" y2="81" stroke="#2a8c8e" stroke-width="1.3" />
<line x1="454" y1="89" x2="470" y2="73" stroke="#2a8c8e" stroke-width="2.6" />
<line x1="2927" y1="89" x2="2943" y2="73" stroke="#2a8c8e" stroke-width="2.6" />
<line x1="462" y1="62" x2="462" y2="253" stroke="#2a8c8e" stroke-width="1.3" />
<line x1="2935" y1="62" x2="2935" y2="253" stroke="#2a8c8e" stroke-width="1.3" />
<text transform="translate(1698,54) scale(0.785,1)" x="0" y="17.8" font-family="Liberation Sans" font-size="51" fill="#000" stroke="#fff" stroke-width="0.9" text-anchor="middle">12965</text>
<line x1="462" y1="177" x2="2935" y2="177" stroke="#2a8c8e" stroke-width="1.3" />
<line x1="454" y1="185" x2="470" y2="169" stroke="#2a8c8e" stroke-width="2.6" />
<line x1="728" y1="185" x2="744" y2="169" stroke="#2a8c8e" stroke-width="2.6" />
<line x1="1262" y1="185" x2="1278" y2="169" stroke="#2a8c8e" stroke-width="2.6" />
<line x1="2002" y1="185" x2="2018" y2="169" stroke="#2a8c8e" stroke-width="2.6" />
<line x1="2608" y1="185" x2="2624" y2="169" stroke="#2a8c8e" stroke-width="2.6" />
<line x1="2927" y1="185" x2="2943" y2="169" stroke="#2a8c8e" stroke-width="2.6" />
<line x1="736" y1="157" x2="736" y2="253" stroke="#2a8c8e" stroke-width="1.3" />
<line x1="1270" y1="157" x2="1270" y2="253" stroke="#2a8c8e" stroke-width="1.3" />
<line x1="2010" y1="157" x2="2010" y2="253" stroke="#2a8c8e" stroke-width="1.3" />
<line x1="2616" y1="157" x2="2616" y2="253" stroke="#2a8c8e" stroke-width="1.3" />
<text transform="translate(599,148) scale(0.785,1)" x="0" y="17.8" font-family="Liberation Sans" font-size="51" fill="#000" stroke="#fff" stroke-width="0.9" text-anchor="middle">1435</text>
<text transform="translate(1003,148) scale(0.785,1)" x="0" y="17.8" font-family="Liberation Sans" font-size="51" fill="#000" stroke="#fff" stroke-width="0.9" text-anchor="middle">2800</text>
<text transform="translate(1640,148) scale(0.785,1)" x="0" y="17.8" font-family="Liberation Sans" font-size="51" fill="#000" stroke="#fff" stroke-width="0.9" text-anchor="middle">3880</text>
<text transform="translate(2313,148) scale(0.785,1)" x="0" y="17.8" font-family="Liberation Sans" font-size="51" fill="#000" stroke="#fff" stroke-width="0.9" text-anchor="middle">3175</text>
<text transform="translate(2775,148) scale(0.785,1)" x="0" y="17.8" font-family="Liberation Sans" font-size="51" fill="#000" stroke="#fff" stroke-width="0.9" text-anchor="middle">1675</text>
<line x1="2198" y1="159" x2="2616" y2="159" stroke="#000" stroke-width="1.3" />
<line x1="2616" y1="159" x2="2616" y2="177" stroke="#000" stroke-width="1.2" />
<line x1="1223" y1="277" x2="1958" y2="277" stroke="#2a8c8e" stroke-width="1.3" />
<line x1="1215" y1="285" x2="1231" y2="269" stroke="#2a8c8e" stroke-width="2.6" />
<line x1="1950" y1="285" x2="1966" y2="269" stroke="#2a8c8e" stroke-width="2.6" />
<line x1="1223" y1="258" x2="1223" y2="300" stroke="#2a8c8e" stroke-width="1.3" />
<line x1="1958" y1="258" x2="1958" y2="352" stroke="#2a8c8e" stroke-width="1.3" />
<text transform="translate(1592,248) scale(0.785,1)" x="0" y="17.8" font-family="Liberation Sans" font-size="51" fill="#000" stroke="#fff" stroke-width="0.9" text-anchor="middle">3851</text>
<line x1="131.4" y1="413" x2="131.4" y2="2029" stroke="#2a8c8e" stroke-width="1.3" />
<line x1="123.4" y1="405" x2="139.4" y2="421" stroke="#2a8c8e" stroke-width="2.6" />
<line x1="123.4" y1="2021" x2="139.4" y2="2037" stroke="#2a8c8e" stroke-width="2.6" />
<line x1="226.6" y1="413" x2="226.6" y2="2029" stroke="#2a8c8e" stroke-width="1.3" />
<line x1="218.6" y1="405" x2="234.6" y2="421" stroke="#2a8c8e" stroke-width="2.6" />
<line x1="218.6" y1="883.5" x2="234.6" y2="899.5" stroke="#2a8c8e" stroke-width="2.6" />
<line x1="218.6" y1="1397" x2="234.6" y2="1413" stroke="#2a8c8e" stroke-width="2.6" />
<line x1="218.6" y1="1488" x2="234.6" y2="1504" stroke="#2a8c8e" stroke-width="2.6" />
<line x1="218.6" y1="2021" x2="234.6" y2="2037" stroke="#2a8c8e" stroke-width="2.6" />
<line x1="111" y1="413" x2="303" y2="413" stroke="#2a8c8e" stroke-width="1.3" />
<line x1="111" y1="2029" x2="303" y2="2029" stroke="#2a8c8e" stroke-width="1.3" />
<line x1="207" y1="891.5" x2="303" y2="891.5" stroke="#2a8c8e" stroke-width="1.3" />
<line x1="207" y1="1405" x2="303" y2="1405" stroke="#2a8c8e" stroke-width="1.3" />
<line x1="207" y1="1496" x2="303" y2="1496" stroke="#2a8c8e" stroke-width="1.3" />
<text transform="translate(101.6,1221) rotate(-90) scale(0.785,1)" x="0" y="17.8" font-family="Liberation Sans" font-size="51" fill="#000" stroke="#fff" stroke-width="0.9" text-anchor="middle">8470</text>
<text transform="translate(197,653) rotate(-90) scale(0.785,1)" x="0" y="17.8" font-family="Liberation Sans" font-size="51" fill="#000" stroke="#fff" stroke-width="0.9" text-anchor="middle">2505</text>
<text transform="translate(197,1148) rotate(-90) scale(0.785,1)" x="0" y="17.8" font-family="Liberation Sans" font-size="51" fill="#000" stroke="#fff" stroke-width="0.9" text-anchor="middle">2695</text>
<text transform="translate(198,1451) rotate(-90) scale(0.785,1)" x="0" y="17.8" font-family="Liberation Sans" font-size="51" fill="#000" stroke="#fff" stroke-width="0.9" text-anchor="middle">475</text>
<text transform="translate(197,1763) rotate(-90) scale(0.785,1)" x="0" y="17.8" font-family="Liberation Sans" font-size="51" fill="#000" stroke="#fff" stroke-width="0.9" text-anchor="middle">2795</text>
<line x1="3267.8" y1="413" x2="3267.8" y2="2027" stroke="#2a8c8e" stroke-width="1.3" />
<line x1="3259.8" y1="405" x2="3275.8" y2="421" stroke="#2a8c8e" stroke-width="2.6" />
<line x1="3259.8" y1="2019" x2="3275.8" y2="2035" stroke="#2a8c8e" stroke-width="2.6" />
<line x1="3172.5" y1="413" x2="3172.5" y2="2027" stroke="#2a8c8e" stroke-width="1.3" />
<line x1="3164.5" y1="405" x2="3180.5" y2="421" stroke="#2a8c8e" stroke-width="2.6" />
<line x1="3164.5" y1="521" x2="3180.5" y2="537" stroke="#2a8c8e" stroke-width="2.6" />
<line x1="3164.5" y1="1220.6" x2="3180.5" y2="1236.6" stroke="#2a8c8e" stroke-width="2.6" />
<line x1="3164.5" y1="1657.4" x2="3180.5" y2="1673.4" stroke="#2a8c8e" stroke-width="2.6" />
<line x1="3164.5" y1="2019" x2="3180.5" y2="2035" stroke="#2a8c8e" stroke-width="2.6" />
<line x1="3095" y1="413" x2="3287" y2="413" stroke="#2a8c8e" stroke-width="1.3" />
<line x1="3095" y1="2027" x2="3287" y2="2027" stroke="#2a8c8e" stroke-width="1.3" />
<line x1="3095" y1="529" x2="3191.6" y2="529" stroke="#2a8c8e" stroke-width="1.3" />
<line x1="3095" y1="1228.6" x2="3191.6" y2="1228.6" stroke="#2a8c8e" stroke-width="1.3" />
<line x1="3095" y1="1665.4" x2="3191.6" y2="1665.4" stroke="#2a8c8e" stroke-width="1.3" />
<text transform="translate(3143,472) rotate(-90) scale(0.785,1)" x="0" y="17.8" font-family="Liberation Sans" font-size="51" fill="#000" stroke="#fff" stroke-width="0.9" text-anchor="middle">610</text>
<text transform="translate(3143,879) rotate(-90) scale(0.785,1)" x="0" y="17.8" font-family="Liberation Sans" font-size="51" fill="#000" stroke="#fff" stroke-width="0.9" text-anchor="middle">3660</text>
<text transform="translate(3237,1219) rotate(-90) scale(0.785,1)" x="0" y="17.8" font-family="Liberation Sans" font-size="51" fill="#000" stroke="#fff" stroke-width="0.9" text-anchor="middle">8460</text>
<text transform="translate(3143,1445) rotate(-90) scale(0.785,1)" x="0" y="17.8" font-family="Liberation Sans" font-size="51" fill="#000" stroke="#fff" stroke-width="0.9" text-anchor="middle">2295</text>
<text transform="translate(3143,1845) rotate(-90) scale(0.785,1)" x="0" y="17.8" font-family="Liberation Sans" font-size="51" fill="#000" stroke="#fff" stroke-width="0.9" text-anchor="middle">1885</text>
<line x1="461.6" y1="2265.5" x2="2935.5" y2="2265.5" stroke="#2a8c8e" stroke-width="1.3" />
<line x1="453.6" y1="2273.5" x2="469.6" y2="2257.5" stroke="#2a8c8e" stroke-width="2.6" />
<line x1="989" y1="2273.5" x2="1005" y2="2257.5" stroke="#2a8c8e" stroke-width="2.6" />
<line x1="1262" y1="2273.5" x2="1278" y2="2257.5" stroke="#2a8c8e" stroke-width="2.6" />
<line x1="1479" y1="2273.5" x2="1495" y2="2257.5" stroke="#2a8c8e" stroke-width="2.6" />
<line x1="1660" y1="2273.5" x2="1676" y2="2257.5" stroke="#2a8c8e" stroke-width="2.6" />
<line x1="1743.6" y1="2273.5" x2="1759.6" y2="2257.5" stroke="#2a8c8e" stroke-width="2.6" />
<line x1="2232.6" y1="2273.5" x2="2248.6" y2="2257.5" stroke="#2a8c8e" stroke-width="2.6" />
<line x1="2927.5" y1="2273.5" x2="2943.5" y2="2257.5" stroke="#2a8c8e" stroke-width="2.6" />
<line x1="997" y1="2188" x2="997" y2="2284" stroke="#2a8c8e" stroke-width="1.3" />
<line x1="1270" y1="2188" x2="1270" y2="2284" stroke="#2a8c8e" stroke-width="1.3" />
<line x1="1487" y1="2188" x2="1487" y2="2284" stroke="#2a8c8e" stroke-width="1.3" />
<line x1="1668" y1="2188" x2="1668" y2="2284" stroke="#2a8c8e" stroke-width="1.3" />
<line x1="1751.6" y1="2188" x2="1751.6" y2="2284" stroke="#2a8c8e" stroke-width="1.3" />
<line x1="2240.6" y1="2188" x2="2240.6" y2="2284" stroke="#2a8c8e" stroke-width="1.3" />
<line x1="461.6" y1="2188" x2="461.6" y2="2381" stroke="#2a8c8e" stroke-width="1.3" />
<line x1="2935.5" y1="2188" x2="2935.5" y2="2381" stroke="#2a8c8e" stroke-width="1.3" />
<line x1="461.6" y1="2361" x2="2935.5" y2="2361" stroke="#2a8c8e" stroke-width="1.3" />
<line x1="453.6" y1="2369" x2="469.6" y2="2353" stroke="#2a8c8e" stroke-width="2.6" />
<line x1="2927.5" y1="2369" x2="2943.5" y2="2353" stroke="#2a8c8e" stroke-width="2.6" />
<text transform="translate(730,2236) scale(0.785,1)" x="0" y="17.8" font-family="Liberation Sans" font-size="51" fill="#000" stroke="#fff" stroke-width="0.9" text-anchor="middle">2805</text>
<text transform="translate(1133,2236) scale(0.785,1)" x="0" y="17.8" font-family="Liberation Sans" font-size="51" fill="#000" stroke="#fff" stroke-width="0.9" text-anchor="middle">1430</text>
<text transform="translate(1378,2236) scale(0.785,1)" x="0" y="17.8" font-family="Liberation Sans" font-size="51" fill="#000" stroke="#fff" stroke-width="0.9" text-anchor="middle">1135</text>
<text transform="translate(1577,2236) scale(0.785,1)" x="0" y="17.8" font-family="Liberation Sans" font-size="51" fill="#000" stroke="#fff" stroke-width="0.9" text-anchor="middle">950</text>
<text transform="translate(1710,2236) scale(0.785,1)" x="0" y="17.8" font-family="Liberation Sans" font-size="51" fill="#000" stroke="#fff" stroke-width="0.9" text-anchor="middle">440</text>
<text transform="translate(1995,2236) scale(0.785,1)" x="0" y="17.8" font-family="Liberation Sans" font-size="51" fill="#000" stroke="#fff" stroke-width="0.9" text-anchor="middle">2560</text>
<text transform="translate(2587,2236) scale(0.785,1)" x="0" y="17.8" font-family="Liberation Sans" font-size="51" fill="#000" stroke="#fff" stroke-width="0.9" text-anchor="middle">3645</text>
<text transform="translate(1697,2332) scale(0.785,1)" x="0" y="17.8" font-family="Liberation Sans" font-size="51" fill="#000" stroke="#fff" stroke-width="0.9" text-anchor="middle">12965</text>
</svg></body></html>
